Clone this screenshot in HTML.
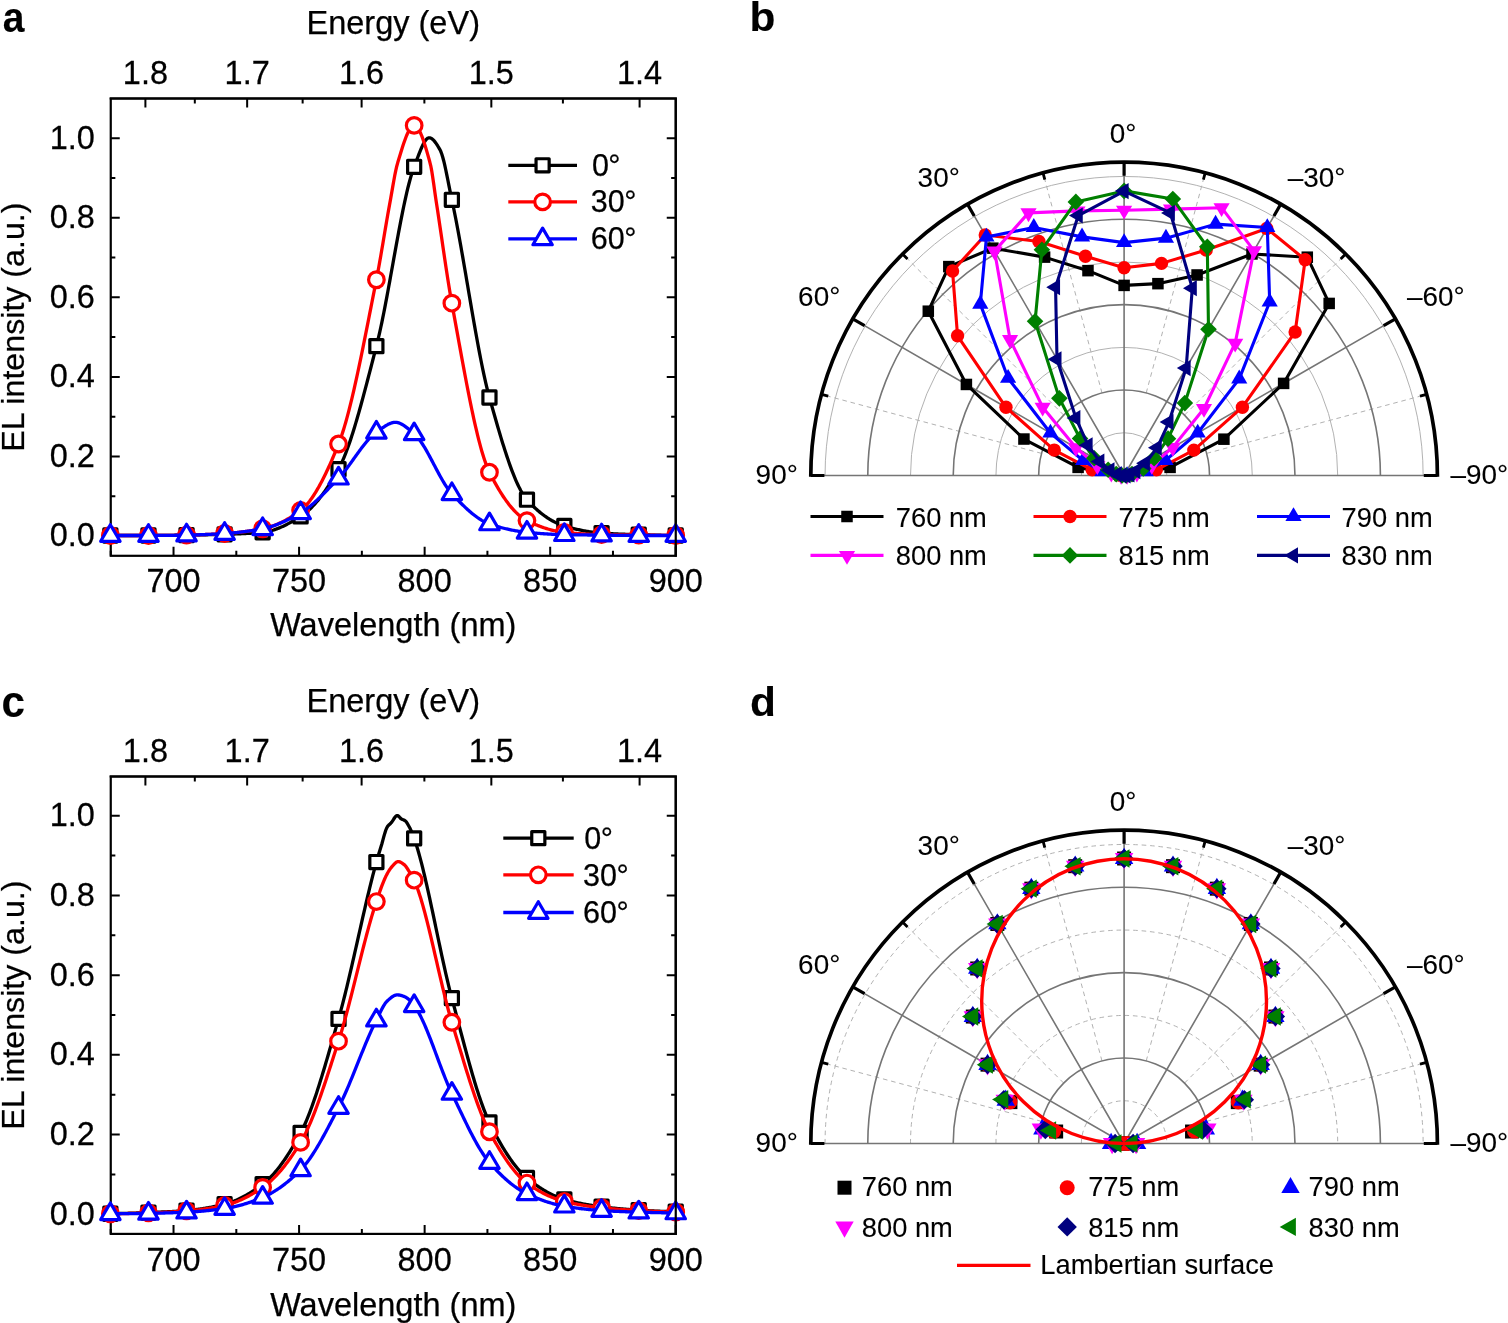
<!DOCTYPE html>
<html lang="en">
<head>
<meta charset="utf-8">
<title>EL spectra and angular emission profiles</title>
<style>
html,body{margin:0;padding:0;background:#fff;}
body{width:1508px;height:1323px;overflow:hidden;}
svg{display:block;font-family:'Liberation Sans', Arial, Helvetica, sans-serif;font-size:32.5px;fill:#000;}
text{stroke:#000;stroke-width:0.25px;}
text.p{stroke-width:0.1px;}
</style>
</head>
<body>
<svg width="1508" height="1323" viewBox="0 0 1508 1323">
<rect width="1508" height="1323" fill="#fff"/>
<rect x="110.75" y="98.5" width="565.0" height="457.29999999999995" fill="none" stroke="#000" stroke-width="2.2"/>
<path d="M173.53 555.8v-9M299.08 555.8v-9M424.64 555.8v-9M550.19 555.8v-9M675.75 555.8v-9M110.75 555.8v-5M236.31 555.8v-5M361.86 555.8v-5M487.42 555.8v-5M612.97 555.8v-5M145.4 98.5v9M247.15 98.5v9M361.61 98.5v9M491.33 98.5v9M639.59 98.5v9M194.82 98.5v5M302.64 98.5v5M424.38 98.5v5M562.91 98.5v5M110.75 536h9M675.75 536h-9M110.75 456.45h9M675.75 456.45h-9M110.75 376.9h9M675.75 376.9h-9M110.75 297.35h9M675.75 297.35h-9M110.75 217.8h9M675.75 217.8h-9M110.75 138.25h9M675.75 138.25h-9M110.75 496.23h4.6M675.75 496.23h-4.6M110.75 416.67h4.6M675.75 416.67h-4.6M110.75 337.12h4.6M675.75 337.12h-4.6M110.75 257.57h4.6M675.75 257.57h-4.6M110.75 178.02h4.6M675.75 178.02h-4.6" fill="none" stroke="#000" stroke-width="2"/>
<text transform="translate(173.53 591.8) scale(1 1.035)" text-anchor="middle">700</text>
<text transform="translate(299.08 591.8) scale(1 1.035)" text-anchor="middle">750</text>
<text transform="translate(424.64 591.8) scale(1 1.035)" text-anchor="middle">800</text>
<text transform="translate(550.19 591.8) scale(1 1.035)" text-anchor="middle">850</text>
<text transform="translate(675.75 591.8) scale(1 1.035)" text-anchor="middle">900</text>
<text transform="translate(145.4 84.3) scale(1 1.035)" text-anchor="middle">1.8</text>
<text transform="translate(247.15 84.3) scale(1 1.035)" text-anchor="middle">1.7</text>
<text transform="translate(361.61 84.3) scale(1 1.035)" text-anchor="middle">1.6</text>
<text transform="translate(491.33 84.3) scale(1 1.035)" text-anchor="middle">1.5</text>
<text transform="translate(639.59 84.3) scale(1 1.035)" text-anchor="middle">1.4</text>
<text transform="translate(94.9 546.4) scale(1 1.035)" text-anchor="end">0.0</text>
<text transform="translate(94.9 466.85) scale(1 1.035)" text-anchor="end">0.2</text>
<text transform="translate(94.9 387.3) scale(1 1.035)" text-anchor="end">0.4</text>
<text transform="translate(94.9 307.75) scale(1 1.035)" text-anchor="end">0.6</text>
<text transform="translate(94.9 228.2) scale(1 1.035)" text-anchor="end">0.8</text>
<text transform="translate(94.9 148.65) scale(1 1.035)" text-anchor="end">1.0</text>
<text x="393.25" y="635.9" text-anchor="middle">Wavelength (nm)</text>
<text x="393.25" y="34.2" text-anchor="middle">Energy (eV)</text>
<text transform="translate(24.3 327.15) rotate(-90)" text-anchor="middle" font-size="32.2">EL intensity (a.u.)</text>
<text transform="translate(2.8 31.5) scale(0.95 1.05)" font-weight="bold" font-size="41" class="p">a</text>
<path d="M110.75 535.5 111.75 535.5 112.75 535.5 113.75 535.5 114.75 535.5 115.75 535.5 116.75 535.5 117.75 535.5 118.75 535.5 119.75 535.5 120.75 535.5 121.75 535.5 122.75 535.5 123.75 535.5 124.75 535.5 125.75 535.5 126.75 535.5 127.75 535.5 128.75 535.5 129.75 535.5 130.75 535.5 131.75 535.5 132.75 535.5 133.75 535.5 134.75 535.5 135.75 535.5 136.75 535.5 137.75 535.5 138.75 535.5 139.75 535.5 140.75 535.5 141.75 535.5 142.75 535.5 143.75 535.5 144.75 535.5 145.75 535.5 146.75 535.5 147.75 535.5 148.75 535.5 149.75 535.5 150.75 535.5 151.75 535.5 152.75 535.49 153.75 535.49 154.75 535.48 155.75 535.48 156.75 535.47 157.75 535.46 158.75 535.46 159.75 535.45 160.75 535.44 161.75 535.43 162.75 535.42 163.75 535.41 164.75 535.4 165.75 535.39 166.75 535.38 167.75 535.36 168.75 535.35 169.75 535.34 170.75 535.33 171.75 535.31 172.75 535.3 173.75 535.29 174.75 535.27 175.75 535.26 176.75 535.24 177.75 535.23 178.75 535.21 179.75 535.2 180.75 535.19 181.75 535.17 182.75 535.16 183.75 535.14 184.75 535.13 185.75 535.11 186.75 535.1 187.75 535.09 188.75 535.07 189.75 535.06 190.75 535.04 191.75 535.03 192.75 535.01 193.75 534.99 194.75 534.98 195.75 534.96 196.75 534.95 197.75 534.93 198.75 534.91 199.75 534.89 200.75 534.87 201.75 534.86 202.75 534.84 203.75 534.82 204.75 534.8 205.75 534.78 206.75 534.76 207.75 534.74 208.75 534.71 209.75 534.69 210.75 534.67 211.75 534.65 212.75 534.62 213.75 534.6 214.75 534.57 215.75 534.55 216.75 534.52 217.75 534.5 218.75 534.47 219.75 534.45 220.75 534.42 221.75 534.39 222.75 534.36 223.75 534.33 224.75 534.3 225.75 534.27 226.75 534.24 227.75 534.21 228.75 534.18 229.75 534.15 230.75 534.12 231.75 534.08 232.75 534.05 233.75 534.02 234.75 533.98 235.75 533.94 236.75 533.91 237.75 533.87 238.75 533.83 239.75 533.79 240.75 533.74 241.75 533.7 242.75 533.65 243.75 533.61 244.75 533.56 245.75 533.51 246.75 533.45 247.75 533.4 248.75 533.34 249.75 533.29 250.75 533.23 251.75 533.16 252.75 533.1 253.75 533.03 254.75 532.96 255.75 532.89 256.75 532.81 257.75 532.74 258.75 532.66 259.75 532.57 260.75 532.49 261.75 532.4 262.75 532.31 263.75 532.2 264.75 532.07 265.75 531.92 266.75 531.74 267.75 531.55 268.75 531.33 269.75 531.09 270.75 530.84 271.75 530.56 272.75 530.27 273.75 529.95 274.75 529.62 275.75 529.27 276.75 528.91 277.75 528.53 278.75 528.13 279.75 527.71 280.75 527.29 281.75 526.84 282.75 526.39 283.75 525.91 284.75 525.43 285.75 524.93 286.75 524.43 287.75 523.91 288.75 523.38 289.75 522.83 290.75 522.28 291.75 521.72 292.75 521.15 293.75 520.57 294.75 519.99 295.75 519.39 296.75 518.79 297.75 518.18 298.75 517.57 299.75 516.95 300.75 516.32 301.75 515.67 302.75 514.98 303.75 514.26 304.75 513.5 305.75 512.71 306.75 511.88 307.75 511.02 308.75 510.13 309.75 509.2 310.75 508.23 311.75 507.23 312.75 506.2 313.75 505.14 314.75 504.05 315.75 502.92 316.75 501.76 317.75 500.57 318.75 499.34 319.75 498.09 320.75 496.8 321.75 495.49 322.75 494.14 323.75 492.76 324.75 491.35 325.75 489.92 326.75 488.45 327.75 486.96 328.75 485.43 329.75 483.88 330.75 482.3 331.75 480.69 332.75 479.06 333.75 477.39 334.75 475.7 335.75 473.99 336.75 472.24 337.75 470.47 338.75 468.67 339.75 466.79 340.75 464.78 341.75 462.66 342.75 460.44 343.75 458.1 344.75 455.67 345.75 453.14 346.75 450.51 347.75 447.79 348.75 444.98 349.75 442.09 350.75 439.12 351.75 436.06 352.75 432.94 353.75 429.74 354.75 426.48 355.75 423.15 356.75 419.77 357.75 416.32 358.75 412.83 359.75 409.28 360.75 405.69 361.75 402.05 362.75 398.38 363.75 394.66 364.75 390.92 365.75 387.15 366.75 383.35 367.75 379.53 368.75 375.7 369.75 371.84 370.75 367.98 371.75 364.11 372.75 360.23 373.75 356.36 374.75 352.48 375.75 348.62 376.75 344.74 377.75 340.71 378.75 336.49 379.75 332.09 380.75 327.52 381.75 322.8 382.75 317.94 383.75 312.95 384.75 307.85 385.75 302.65 386.75 297.36 387.75 291.99 388.75 286.56 389.75 281.08 390.75 275.56 391.75 270.02 392.75 264.47 393.75 258.91 394.75 253.38 395.75 247.87 396.75 242.39 397.75 236.97 398.75 231.62 399.75 226.35 400.75 221.16 401.75 216.08 402.75 211.12 403.75 206.28 404.75 201.59 405.75 197.05 406.75 192.68 407.75 188.49 408.75 184.5 409.75 180.71 410.75 177.14 411.75 173.8 412.75 170.71 413.75 167.88 414.75 165.25 415.75 162.6 416.75 159.91 417.75 157.23 418.75 154.59 419.75 152.03 420.75 149.57 421.75 147.25 422.75 145.1 423.75 143.17 424.75 141.47 425.75 140.05 426.75 138.95 427.75 138.18 428.75 137.79 429.75 137.79 430.75 138.09 431.75 138.64 432.75 139.43 433.75 140.42 434.75 141.6 435.75 142.94 436.75 144.41 437.75 145.98 438.75 147.65 439.75 149.37 440.75 151.32 441.75 153.96 442.75 157.21 443.75 160.98 444.75 165.19 445.75 169.74 446.75 174.55 447.75 179.53 448.75 184.58 449.75 189.62 450.75 194.56 451.75 199.3 452.75 203.96 453.75 208.76 454.75 213.71 455.75 218.78 456.75 223.98 457.75 229.29 458.75 234.7 459.75 240.2 460.75 245.78 461.75 251.43 462.75 257.15 463.75 262.91 464.75 268.72 465.75 274.56 466.75 280.42 467.75 286.29 468.75 292.17 469.75 298.04 470.75 303.89 471.75 309.71 472.75 315.5 473.75 321.23 474.75 326.91 475.75 332.53 476.75 338.06 477.75 343.51 478.75 348.86 479.75 354.11 480.75 359.24 481.75 364.24 482.75 369.11 483.75 373.83 484.75 378.39 485.75 382.79 486.75 387.01 487.75 391.04 488.75 394.88 489.75 398.53 490.75 402.11 491.75 405.68 492.75 409.24 493.75 412.79 494.75 416.31 495.75 419.81 496.75 423.28 497.75 426.73 498.75 430.14 499.75 433.51 500.75 436.85 501.75 440.15 502.75 443.39 503.75 446.59 504.75 449.74 505.75 452.84 506.75 455.87 507.75 458.85 508.75 461.76 509.75 464.6 510.75 467.37 511.75 470.07 512.75 472.69 513.75 475.22 514.75 477.68 515.75 480.05 516.75 482.33 517.75 484.51 518.75 486.6 519.75 488.59 520.75 490.48 521.75 492.26 522.75 493.93 523.75 495.49 524.75 496.94 525.75 498.27 526.75 499.47 527.75 500.58 528.75 501.67 529.75 502.73 530.75 503.77 531.75 504.79 532.75 505.79 533.75 506.76 534.75 507.71 535.75 508.64 536.75 509.55 537.75 510.43 538.75 511.29 539.75 512.13 540.75 512.95 541.75 513.75 542.75 514.52 543.75 515.27 544.75 516 545.75 516.71 546.75 517.39 547.75 518.06 548.75 518.7 549.75 519.32 550.75 519.92 551.75 520.5 552.75 521.05 553.75 521.59 554.75 522.1 555.75 522.59 556.75 523.06 557.75 523.51 558.75 523.94 559.75 524.35 560.75 524.74 561.75 525.1 562.75 525.45 563.75 525.77 564.75 526.08 565.75 526.37 566.75 526.67 567.75 526.95 568.75 527.23 569.75 527.51 570.75 527.78 571.75 528.04 572.75 528.3 573.75 528.55 574.75 528.8 575.75 529.04 576.75 529.28 577.75 529.51 578.75 529.73 579.75 529.95 580.75 530.16 581.75 530.37 582.75 530.57 583.75 530.76 584.75 530.95 585.75 531.13 586.75 531.31 587.75 531.47 588.75 531.64 589.75 531.79 590.75 531.94 591.75 532.08 592.75 532.22 593.75 532.34 594.75 532.47 595.75 532.58 596.75 532.69 597.75 532.79 598.75 532.88 599.75 532.97 600.75 533.05 601.75 533.12 602.75 533.19 603.75 533.26 604.75 533.32 605.75 533.39 606.75 533.45 607.75 533.51 608.75 533.56 609.75 533.62 610.75 533.67 611.75 533.72 612.75 533.77 613.75 533.82 614.75 533.87 615.75 533.91 616.75 533.96 617.75 534 618.75 534.04 619.75 534.08 620.75 534.12 621.75 534.16 622.75 534.2 623.75 534.24 624.75 534.27 625.75 534.31 626.75 534.34 627.75 534.37 628.75 534.41 629.75 534.44 630.75 534.47 631.75 534.5 632.75 534.53 633.75 534.56 634.75 534.59 635.75 534.62 636.75 534.65 637.75 534.68 638.75 534.7 639.75 534.73 640.75 534.76 641.75 534.79 642.75 534.82 643.75 534.85 644.75 534.87 645.75 534.9 646.75 534.93 647.75 534.95 648.75 534.98 649.75 535 650.75 535.03 651.75 535.05 652.75 535.08 653.75 535.1 654.75 535.13 655.75 535.15 656.75 535.17 657.75 535.2 658.75 535.22 659.75 535.24 660.75 535.26 661.75 535.28 662.75 535.3 663.75 535.32 664.75 535.34 665.75 535.36 666.75 535.37 667.75 535.39 668.75 535.41 669.75 535.42 670.75 535.44 671.75 535.45 672.75 535.46 673.75 535.48 674.75 535.49 675.75 535.5" fill="none" stroke="#000" stroke-width="3.3" stroke-linejoin="round"/>
<rect x="103.81" y="528.95" width="13.1" height="13.1" fill="#fff" stroke="#000" stroke-width="3.2" stroke-linejoin="round"/>
<rect x="141.92" y="528.95" width="13.1" height="13.1" fill="#fff" stroke="#000" stroke-width="3.2" stroke-linejoin="round"/>
<rect x="180" y="528.55" width="13.1" height="13.1" fill="#fff" stroke="#000" stroke-width="3.2" stroke-linejoin="round"/>
<rect x="218.06" y="527.76" width="13.1" height="13.1" fill="#fff" stroke="#000" stroke-width="3.2" stroke-linejoin="round"/>
<rect x="256.08" y="525.77" width="13.1" height="13.1" fill="#fff" stroke="#000" stroke-width="3.2" stroke-linejoin="round"/>
<rect x="294.06" y="509.86" width="13.1" height="13.1" fill="#fff" stroke="#000" stroke-width="3.2" stroke-linejoin="round"/>
<rect x="331.98" y="462.53" width="13.1" height="13.1" fill="#fff" stroke="#000" stroke-width="3.2" stroke-linejoin="round"/>
<rect x="369.83" y="339.62" width="13.1" height="13.1" fill="#fff" stroke="#000" stroke-width="3.2" stroke-linejoin="round"/>
<rect x="407.61" y="160.24" width="13.1" height="13.1" fill="#fff" stroke="#000" stroke-width="3.2" stroke-linejoin="round"/>
<rect x="445.31" y="193.25" width="13.1" height="13.1" fill="#fff" stroke="#000" stroke-width="3.2" stroke-linejoin="round"/>
<rect x="482.91" y="390.93" width="13.1" height="13.1" fill="#fff" stroke="#000" stroke-width="3.2" stroke-linejoin="round"/>
<rect x="520.41" y="493.15" width="13.1" height="13.1" fill="#fff" stroke="#000" stroke-width="3.2" stroke-linejoin="round"/>
<rect x="557.79" y="519.4" width="13.1" height="13.1" fill="#fff" stroke="#000" stroke-width="3.2" stroke-linejoin="round"/>
<rect x="595.05" y="526.56" width="13.1" height="13.1" fill="#fff" stroke="#000" stroke-width="3.2" stroke-linejoin="round"/>
<rect x="632.18" y="528.15" width="13.1" height="13.1" fill="#fff" stroke="#000" stroke-width="3.2" stroke-linejoin="round"/>
<rect x="669.17" y="528.95" width="13.1" height="13.1" fill="#fff" stroke="#000" stroke-width="3.2" stroke-linejoin="round"/>
<path d="M110.75 535.5 111.75 535.5 112.75 535.5 113.75 535.5 114.75 535.5 115.75 535.5 116.75 535.5 117.75 535.5 118.75 535.5 119.75 535.5 120.75 535.5 121.75 535.5 122.75 535.5 123.75 535.5 124.75 535.5 125.75 535.5 126.75 535.5 127.75 535.5 128.75 535.5 129.75 535.5 130.75 535.5 131.75 535.5 132.75 535.5 133.75 535.5 134.75 535.5 135.75 535.5 136.75 535.5 137.75 535.5 138.75 535.5 139.75 535.5 140.75 535.5 141.75 535.5 142.75 535.5 143.75 535.5 144.75 535.5 145.75 535.5 146.75 535.5 147.75 535.5 148.75 535.5 149.75 535.5 150.75 535.5 151.75 535.5 152.75 535.49 153.75 535.49 154.75 535.49 155.75 535.48 156.75 535.48 157.75 535.47 158.75 535.46 159.75 535.46 160.75 535.45 161.75 535.44 162.75 535.43 163.75 535.42 164.75 535.41 165.75 535.4 166.75 535.39 167.75 535.38 168.75 535.37 169.75 535.35 170.75 535.34 171.75 535.33 172.75 535.31 173.75 535.3 174.75 535.29 175.75 535.27 176.75 535.26 177.75 535.24 178.75 535.23 179.75 535.21 180.75 535.2 181.75 535.18 182.75 535.16 183.75 535.15 184.75 535.13 185.75 535.12 186.75 535.1 187.75 535.08 188.75 535.06 189.75 535.04 190.75 535.02 191.75 535 192.75 534.97 193.75 534.94 194.75 534.92 195.75 534.89 196.75 534.85 197.75 534.82 198.75 534.79 199.75 534.75 200.75 534.72 201.75 534.68 202.75 534.64 203.75 534.6 204.75 534.56 205.75 534.52 206.75 534.47 207.75 534.43 208.75 534.38 209.75 534.34 210.75 534.29 211.75 534.24 212.75 534.19 213.75 534.14 214.75 534.08 215.75 534.03 216.75 533.98 217.75 533.92 218.75 533.86 219.75 533.81 220.75 533.75 221.75 533.69 222.75 533.63 223.75 533.56 224.75 533.5 225.75 533.44 226.75 533.37 227.75 533.3 228.75 533.23 229.75 533.15 230.75 533.07 231.75 532.99 232.75 532.91 233.75 532.82 234.75 532.73 235.75 532.63 236.75 532.54 237.75 532.43 238.75 532.33 239.75 532.22 240.75 532.11 241.75 532 242.75 531.88 243.75 531.76 244.75 531.63 245.75 531.5 246.75 531.37 247.75 531.24 248.75 531.1 249.75 530.95 250.75 530.8 251.75 530.65 252.75 530.5 253.75 530.34 254.75 530.17 255.75 530.01 256.75 529.83 257.75 529.66 258.75 529.48 259.75 529.29 260.75 529.11 261.75 528.91 262.75 528.72 263.75 528.51 264.75 528.28 265.75 528.04 266.75 527.79 267.75 527.52 268.75 527.23 269.75 526.93 270.75 526.62 271.75 526.29 272.75 525.94 273.75 525.58 274.75 525.21 275.75 524.82 276.75 524.42 277.75 524 278.75 523.56 279.75 523.11 280.75 522.65 281.75 522.17 282.75 521.68 283.75 521.17 284.75 520.65 285.75 520.11 286.75 519.56 287.75 518.99 288.75 518.41 289.75 517.82 290.75 517.21 291.75 516.59 292.75 515.95 293.75 515.3 294.75 514.63 295.75 513.95 296.75 513.25 297.75 512.55 298.75 511.82 299.75 511.09 300.75 510.34 301.75 509.54 302.75 508.68 303.75 507.75 304.75 506.76 305.75 505.71 306.75 504.6 307.75 503.43 308.75 502.2 309.75 500.92 310.75 499.58 311.75 498.18 312.75 496.73 313.75 495.23 314.75 493.67 315.75 492.07 316.75 490.41 317.75 488.7 318.75 486.95 319.75 485.15 320.75 483.31 321.75 481.41 322.75 479.48 323.75 477.5 324.75 475.49 325.75 473.43 326.75 471.33 327.75 469.19 328.75 467.02 329.75 464.81 330.75 462.57 331.75 460.29 332.75 457.98 333.75 455.63 334.75 453.26 335.75 450.85 336.75 448.42 337.75 445.95 338.75 443.46 339.75 440.85 340.75 438.09 341.75 435.18 342.75 432.13 343.75 428.94 344.75 425.62 345.75 422.17 346.75 418.6 347.75 414.91 348.75 411.1 349.75 407.19 350.75 403.17 351.75 399.05 352.75 394.84 353.75 390.53 354.75 386.15 355.75 381.68 356.75 377.14 357.75 372.52 358.75 367.84 359.75 363.1 360.75 358.31 361.75 353.46 362.75 348.57 363.75 343.64 364.75 338.66 365.75 333.66 366.75 328.63 367.75 323.58 368.75 318.51 369.75 313.43 370.75 308.34 371.75 303.24 372.75 298.15 373.75 293.07 374.75 288 375.75 282.94 376.75 277.89 377.75 272.66 378.75 267.23 379.75 261.64 380.75 255.91 381.75 250.08 382.75 244.19 383.75 238.25 384.75 232.3 385.75 226.38 386.75 220.52 387.75 214.75 388.75 209.09 389.75 203.59 390.75 198.09 391.75 192.38 392.75 186.6 393.75 180.94 394.75 175.54 395.75 170.58 396.75 166.21 397.75 162.59 398.75 159.27 399.75 155.95 400.75 152.67 401.75 149.46 402.75 146.33 403.75 143.31 404.75 140.44 405.75 137.74 406.75 135.23 407.75 132.95 408.75 130.91 409.75 129.16 410.75 127.71 411.75 126.59 412.75 125.83 413.75 125.46 414.75 125.49 415.75 125.94 416.75 126.78 417.75 127.98 418.75 129.53 419.75 131.38 420.75 133.53 421.75 135.94 422.75 138.59 423.75 141.46 424.75 144.52 425.75 147.74 426.75 151.11 427.75 154.59 428.75 158.16 429.75 161.8 430.75 165.81 431.75 171.1 432.75 177.4 433.75 184.32 434.75 191.47 435.75 198.49 436.75 205.03 437.75 211.54 438.75 218.18 439.75 224.91 440.75 231.71 441.75 238.55 442.75 245.4 443.75 252.22 444.75 259 445.75 265.7 446.75 272.29 447.75 278.75 448.75 285.04 449.75 291.14 450.75 297.01 451.75 302.63 452.75 308.09 453.75 313.58 454.75 319.09 455.75 324.61 456.75 330.13 457.75 335.65 458.75 341.17 459.75 346.67 460.75 352.15 461.75 357.61 462.75 363.03 463.75 368.41 464.75 373.74 465.75 379.02 466.75 384.24 467.75 389.4 468.75 394.48 469.75 399.48 470.75 404.4 471.75 409.22 472.75 413.95 473.75 418.57 474.75 423.07 475.75 427.46 476.75 431.73 477.75 435.86 478.75 439.86 479.75 443.71 480.75 447.41 481.75 450.95 482.75 454.33 483.75 457.53 484.75 460.57 485.75 463.41 486.75 466.07 487.75 468.53 488.75 470.79 489.75 472.84 490.75 474.82 491.75 476.76 492.75 478.66 493.75 480.53 494.75 482.37 495.75 484.17 496.75 485.93 497.75 487.65 498.75 489.34 499.75 491 500.75 492.61 501.75 494.19 502.75 495.73 503.75 497.23 504.75 498.69 505.75 500.11 506.75 501.5 507.75 502.84 508.75 504.15 509.75 505.41 510.75 506.63 511.75 507.82 512.75 508.96 513.75 510.06 514.75 511.12 515.75 512.14 516.75 513.11 517.75 514.05 518.75 514.94 519.75 515.78 520.75 516.59 521.75 517.35 522.75 518.06 523.75 518.73 524.75 519.36 525.75 519.94 526.75 520.48 527.75 520.98 528.75 521.47 529.75 521.96 530.75 522.43 531.75 522.9 532.75 523.35 533.75 523.79 534.75 524.23 535.75 524.65 536.75 525.07 537.75 525.47 538.75 525.87 539.75 526.25 540.75 526.63 541.75 526.99 542.75 527.35 543.75 527.69 544.75 528.02 545.75 528.34 546.75 528.66 547.75 528.96 548.75 529.25 549.75 529.53 550.75 529.79 551.75 530.05 552.75 530.3 553.75 530.53 554.75 530.76 555.75 530.97 556.75 531.17 557.75 531.36 558.75 531.54 559.75 531.7 560.75 531.86 561.75 532 562.75 532.13 563.75 532.25 564.75 532.36 565.75 532.47 566.75 532.57 567.75 532.67 568.75 532.77 569.75 532.86 570.75 532.96 571.75 533.05 572.75 533.14 573.75 533.22 574.75 533.31 575.75 533.39 576.75 533.47 577.75 533.55 578.75 533.63 579.75 533.7 580.75 533.77 581.75 533.84 582.75 533.91 583.75 533.97 584.75 534.03 585.75 534.09 586.75 534.15 587.75 534.2 588.75 534.26 589.75 534.31 590.75 534.35 591.75 534.4 592.75 534.44 593.75 534.48 594.75 534.52 595.75 534.55 596.75 534.58 597.75 534.61 598.75 534.64 599.75 534.67 600.75 534.69 601.75 534.71 602.75 534.72 603.75 534.74 604.75 534.76 605.75 534.77 606.75 534.79 607.75 534.8 608.75 534.82 609.75 534.83 610.75 534.84 611.75 534.85 612.75 534.87 613.75 534.88 614.75 534.89 615.75 534.9 616.75 534.91 617.75 534.92 618.75 534.93 619.75 534.94 620.75 534.94 621.75 534.95 622.75 534.96 623.75 534.97 624.75 534.98 625.75 534.99 626.75 534.99 627.75 535 628.75 535.01 629.75 535.02 630.75 535.03 631.75 535.04 632.75 535.04 633.75 535.05 634.75 535.06 635.75 535.07 636.75 535.08 637.75 535.09 638.75 535.1 639.75 535.11 640.75 535.12 641.75 535.13 642.75 535.15 643.75 535.16 644.75 535.17 645.75 535.18 646.75 535.19 647.75 535.2 648.75 535.21 649.75 535.22 650.75 535.23 651.75 535.24 652.75 535.25 653.75 535.26 654.75 535.27 655.75 535.29 656.75 535.3 657.75 535.31 658.75 535.32 659.75 535.33 660.75 535.34 661.75 535.35 662.75 535.36 663.75 535.37 664.75 535.38 665.75 535.39 666.75 535.4 667.75 535.41 668.75 535.42 669.75 535.44 670.75 535.45 671.75 535.46 672.75 535.47 673.75 535.48 674.75 535.49 675.75 535.5" fill="none" stroke="#f00" stroke-width="3.3" stroke-linejoin="round"/>
<circle cx="110.36" cy="535.5" r="7.8" fill="#fff" stroke="#f00" stroke-width="3.2"/>
<circle cx="148.47" cy="535.5" r="7.8" fill="#fff" stroke="#f00" stroke-width="3.2"/>
<circle cx="186.55" cy="535.1" r="7.8" fill="#fff" stroke="#f00" stroke-width="3.2"/>
<circle cx="224.61" cy="533.51" r="7.8" fill="#fff" stroke="#f00" stroke-width="3.2"/>
<circle cx="262.63" cy="528.74" r="7.8" fill="#fff" stroke="#f00" stroke-width="3.2"/>
<circle cx="300.61" cy="510.44" r="7.8" fill="#fff" stroke="#f00" stroke-width="3.2"/>
<circle cx="338.53" cy="444.02" r="7.8" fill="#fff" stroke="#f00" stroke-width="3.2"/>
<circle cx="376.38" cy="279.75" r="7.8" fill="#fff" stroke="#f00" stroke-width="3.2"/>
<circle cx="414.16" cy="125.42" r="7.8" fill="#fff" stroke="#f00" stroke-width="3.2"/>
<circle cx="451.86" cy="303.21" r="7.8" fill="#fff" stroke="#f00" stroke-width="3.2"/>
<circle cx="489.46" cy="472.26" r="7.8" fill="#fff" stroke="#f00" stroke-width="3.2"/>
<circle cx="526.96" cy="520.58" r="7.8" fill="#fff" stroke="#f00" stroke-width="3.2"/>
<circle cx="564.34" cy="532.32" r="7.8" fill="#fff" stroke="#f00" stroke-width="3.2"/>
<circle cx="601.6" cy="534.7" r="7.8" fill="#fff" stroke="#f00" stroke-width="3.2"/>
<circle cx="638.73" cy="535.1" r="7.8" fill="#fff" stroke="#f00" stroke-width="3.2"/>
<circle cx="675.72" cy="535.5" r="7.8" fill="#fff" stroke="#f00" stroke-width="3.2"/>
<path d="M110.75 535.5 111.75 535.5 112.75 535.5 113.75 535.5 114.75 535.5 115.75 535.5 116.75 535.5 117.75 535.5 118.75 535.5 119.75 535.5 120.75 535.5 121.75 535.5 122.75 535.5 123.75 535.5 124.75 535.5 125.75 535.5 126.75 535.5 127.75 535.5 128.75 535.5 129.75 535.5 130.75 535.5 131.75 535.5 132.75 535.5 133.75 535.5 134.75 535.5 135.75 535.5 136.75 535.5 137.75 535.5 138.75 535.5 139.75 535.5 140.75 535.5 141.75 535.5 142.75 535.5 143.75 535.5 144.75 535.5 145.75 535.5 146.75 535.5 147.75 535.5 148.75 535.5 149.75 535.5 150.75 535.5 151.75 535.5 152.75 535.49 153.75 535.49 154.75 535.49 155.75 535.48 156.75 535.48 157.75 535.47 158.75 535.46 159.75 535.46 160.75 535.45 161.75 535.44 162.75 535.43 163.75 535.42 164.75 535.41 165.75 535.4 166.75 535.39 167.75 535.38 168.75 535.37 169.75 535.35 170.75 535.34 171.75 535.33 172.75 535.31 173.75 535.3 174.75 535.29 175.75 535.27 176.75 535.26 177.75 535.24 178.75 535.23 179.75 535.21 180.75 535.2 181.75 535.18 182.75 535.16 183.75 535.15 184.75 535.13 185.75 535.12 186.75 535.1 187.75 535.08 188.75 535.06 189.75 535.04 190.75 535.02 191.75 535 192.75 534.97 193.75 534.94 194.75 534.92 195.75 534.89 196.75 534.85 197.75 534.82 198.75 534.79 199.75 534.75 200.75 534.72 201.75 534.68 202.75 534.64 203.75 534.6 204.75 534.56 205.75 534.52 206.75 534.47 207.75 534.43 208.75 534.38 209.75 534.34 210.75 534.29 211.75 534.24 212.75 534.19 213.75 534.14 214.75 534.08 215.75 534.03 216.75 533.98 217.75 533.92 218.75 533.86 219.75 533.81 220.75 533.75 221.75 533.69 222.75 533.63 223.75 533.56 224.75 533.5 225.75 533.44 226.75 533.37 227.75 533.3 228.75 533.23 229.75 533.15 230.75 533.07 231.75 532.98 232.75 532.9 233.75 532.81 234.75 532.72 235.75 532.62 236.75 532.52 237.75 532.42 238.75 532.31 239.75 532.2 240.75 532.09 241.75 531.97 242.75 531.85 243.75 531.73 244.75 531.6 245.75 531.47 246.75 531.34 247.75 531.2 248.75 531.06 249.75 530.92 250.75 530.77 251.75 530.62 252.75 530.46 253.75 530.31 254.75 530.14 255.75 529.98 256.75 529.81 257.75 529.64 258.75 529.46 259.75 529.28 260.75 529.1 261.75 528.91 262.75 528.72 263.75 528.51 264.75 528.3 265.75 528.06 266.75 527.81 267.75 527.55 268.75 527.28 269.75 526.99 270.75 526.68 271.75 526.37 272.75 526.04 273.75 525.69 274.75 525.34 275.75 524.97 276.75 524.59 277.75 524.2 278.75 523.8 279.75 523.39 280.75 522.97 281.75 522.54 282.75 522.09 283.75 521.64 284.75 521.18 285.75 520.71 286.75 520.23 287.75 519.74 288.75 519.24 289.75 518.74 290.75 518.23 291.75 517.71 292.75 517.18 293.75 516.65 294.75 516.11 295.75 515.56 296.75 515.01 297.75 514.45 298.75 513.89 299.75 513.32 300.75 512.75 301.75 512.15 302.75 511.53 303.75 510.89 304.75 510.21 305.75 509.51 306.75 508.79 307.75 508.04 308.75 507.28 309.75 506.48 310.75 505.67 311.75 504.84 312.75 503.99 313.75 503.12 314.75 502.23 315.75 501.33 316.75 500.41 317.75 499.48 318.75 498.53 319.75 497.57 320.75 496.59 321.75 495.61 322.75 494.62 323.75 493.61 324.75 492.6 325.75 491.58 326.75 490.55 327.75 489.52 328.75 488.48 329.75 487.43 330.75 486.39 331.75 485.34 332.75 484.29 333.75 483.24 334.75 482.18 335.75 481.13 336.75 480.08 337.75 479.04 338.75 477.99 339.75 476.92 340.75 475.8 341.75 474.65 342.75 473.46 343.75 472.24 344.75 470.98 345.75 469.7 346.75 468.4 347.75 467.07 348.75 465.72 349.75 464.36 350.75 462.98 351.75 461.6 352.75 460.21 353.75 458.81 354.75 457.41 355.75 456.01 356.75 454.62 357.75 453.23 358.75 451.85 359.75 450.49 360.75 449.14 361.75 447.81 362.75 446.5 363.75 445.22 364.75 443.96 365.75 442.73 366.75 441.54 367.75 440.38 368.75 439.26 369.75 438.18 370.75 437.15 371.75 436.16 372.75 435.22 373.75 434.34 374.75 433.51 375.75 432.74 376.75 432.03 377.75 431.31 378.75 430.59 379.75 429.86 380.75 429.14 381.75 428.42 382.75 427.71 383.75 427.03 384.75 426.37 385.75 425.73 386.75 425.14 387.75 424.59 388.75 424.08 389.75 423.63 390.75 423.23 391.75 422.9 392.75 422.64 393.75 422.46 394.75 422.36 395.75 422.35 396.75 422.43 397.75 422.62 398.75 422.9 399.75 423.26 400.75 423.7 401.75 424.21 402.75 424.78 403.75 425.42 404.75 426.1 405.75 426.84 406.75 427.61 407.75 428.41 408.75 429.23 409.75 430.08 410.75 430.94 411.75 431.8 412.75 432.67 413.75 433.52 414.75 434.39 415.75 435.35 416.75 436.4 417.75 437.55 418.75 438.78 419.75 440.1 420.75 441.5 421.75 442.96 422.75 444.49 423.75 446.08 424.75 447.73 425.75 449.43 426.75 451.17 427.75 452.95 428.75 454.77 429.75 456.61 430.75 458.48 431.75 460.36 432.75 462.26 433.75 464.17 434.75 466.07 435.75 467.98 436.75 469.87 437.75 471.75 438.75 473.61 439.75 475.45 440.75 477.26 441.75 479.03 442.75 480.76 443.75 482.44 444.75 484.08 445.75 485.65 446.75 487.17 447.75 488.61 448.75 489.99 449.75 491.28 450.75 492.5 451.75 493.62 452.75 494.69 453.75 495.75 454.75 496.8 455.75 497.85 456.75 498.9 457.75 499.93 458.75 500.96 459.75 501.97 460.75 502.98 461.75 503.98 462.75 504.96 463.75 505.93 464.75 506.89 465.75 507.83 466.75 508.76 467.75 509.67 468.75 510.57 469.75 511.45 470.75 512.31 471.75 513.15 472.75 513.97 473.75 514.77 474.75 515.54 475.75 516.3 476.75 517.03 477.75 517.74 478.75 518.42 479.75 519.08 480.75 519.71 481.75 520.32 482.75 520.89 483.75 521.44 484.75 521.96 485.75 522.44 486.75 522.9 487.75 523.32 488.75 523.71 489.75 524.07 490.75 524.41 491.75 524.75 492.75 525.08 493.75 525.4 494.75 525.72 495.75 526.02 496.75 526.33 497.75 526.62 498.75 526.91 499.75 527.19 500.75 527.47 501.75 527.74 502.75 528 503.75 528.25 504.75 528.5 505.75 528.75 506.75 528.98 507.75 529.21 508.75 529.43 509.75 529.65 510.75 529.85 511.75 530.06 512.75 530.25 513.75 530.44 514.75 530.62 515.75 530.8 516.75 530.97 517.75 531.13 518.75 531.29 519.75 531.43 520.75 531.58 521.75 531.71 522.75 531.84 523.75 531.97 524.75 532.08 525.75 532.19 526.75 532.3 527.75 532.4 528.75 532.49 529.75 532.59 530.75 532.68 531.75 532.78 532.75 532.87 533.75 532.96 534.75 533.05 535.75 533.13 536.75 533.22 537.75 533.3 538.75 533.38 539.75 533.46 540.75 533.54 541.75 533.61 542.75 533.69 543.75 533.76 544.75 533.83 545.75 533.9 546.75 533.96 547.75 534.02 548.75 534.08 549.75 534.14 550.75 534.2 551.75 534.25 552.75 534.3 553.75 534.35 554.75 534.4 555.75 534.44 556.75 534.48 557.75 534.52 558.75 534.56 559.75 534.59 560.75 534.62 561.75 534.65 562.75 534.67 563.75 534.69 564.75 534.71 565.75 534.73 566.75 534.75 567.75 534.76 568.75 534.78 569.75 534.79 570.75 534.81 571.75 534.82 572.75 534.83 573.75 534.84 574.75 534.86 575.75 534.87 576.75 534.88 577.75 534.89 578.75 534.9 579.75 534.91 580.75 534.92 581.75 534.93 582.75 534.94 583.75 534.95 584.75 534.95 585.75 534.96 586.75 534.97 587.75 534.98 588.75 534.99 589.75 535 590.75 535 591.75 535.01 592.75 535.02 593.75 535.03 594.75 535.04 595.75 535.05 596.75 535.05 597.75 535.06 598.75 535.07 599.75 535.08 600.75 535.09 601.75 535.1 602.75 535.11 603.75 535.13 604.75 535.14 605.75 535.15 606.75 535.16 607.75 535.18 608.75 535.19 609.75 535.2 610.75 535.22 611.75 535.23 612.75 535.25 613.75 535.26 614.75 535.28 615.75 535.29 616.75 535.3 617.75 535.32 618.75 535.33 619.75 535.35 620.75 535.36 621.75 535.37 622.75 535.38 623.75 535.4 624.75 535.41 625.75 535.42 626.75 535.43 627.75 535.44 628.75 535.45 629.75 535.46 630.75 535.47 631.75 535.47 632.75 535.48 633.75 535.49 634.75 535.49 635.75 535.5 636.75 535.5 637.75 535.5 638.75 535.5 639.75 535.5 640.75 535.5 641.75 535.5 642.75 535.5 643.75 535.5 644.75 535.5 645.75 535.5 646.75 535.5 647.75 535.5 648.75 535.5 649.75 535.5 650.75 535.5 651.75 535.5 652.75 535.5 653.75 535.5 654.75 535.5 655.75 535.5 656.75 535.5 657.75 535.5 658.75 535.5 659.75 535.5 660.75 535.5 661.75 535.5 662.75 535.5 663.75 535.5 664.75 535.5 665.75 535.5 666.75 535.5 667.75 535.5 668.75 535.5 669.75 535.5 670.75 535.5 671.75 535.5 672.75 535.5 673.75 535.5 674.75 535.5 675.75 535.5" fill="none" stroke="#00f" stroke-width="3.3" stroke-linejoin="round"/>
<path d="M110.36 524.7L120.06 541.3H100.66Z" fill="#fff" stroke="#00f" stroke-width="3.2" stroke-linejoin="round"/>
<path d="M148.47 524.7L158.17 541.3H138.77Z" fill="#fff" stroke="#00f" stroke-width="3.2" stroke-linejoin="round"/>
<path d="M186.55 524.3L196.25 540.9H176.85Z" fill="#fff" stroke="#00f" stroke-width="3.2" stroke-linejoin="round"/>
<path d="M224.61 522.71L234.31 539.31H214.91Z" fill="#fff" stroke="#00f" stroke-width="3.2" stroke-linejoin="round"/>
<path d="M262.63 517.94L272.33 534.54H252.93Z" fill="#fff" stroke="#00f" stroke-width="3.2" stroke-linejoin="round"/>
<path d="M300.61 502.03L310.31 518.63H290.91Z" fill="#fff" stroke="#00f" stroke-width="3.2" stroke-linejoin="round"/>
<path d="M338.53 467.42L348.23 484.02H328.83Z" fill="#fff" stroke="#00f" stroke-width="3.2" stroke-linejoin="round"/>
<path d="M376.38 421.48L386.08 438.08H366.68Z" fill="#fff" stroke="#00f" stroke-width="3.2" stroke-linejoin="round"/>
<path d="M414.16 423.07L423.86 439.67H404.46Z" fill="#fff" stroke="#00f" stroke-width="3.2" stroke-linejoin="round"/>
<path d="M451.86 482.94L461.56 499.54H442.16Z" fill="#fff" stroke="#00f" stroke-width="3.2" stroke-linejoin="round"/>
<path d="M489.46 513.17L499.16 529.77H479.76Z" fill="#fff" stroke="#00f" stroke-width="3.2" stroke-linejoin="round"/>
<path d="M526.96 521.52L536.66 538.12H517.26Z" fill="#fff" stroke="#00f" stroke-width="3.2" stroke-linejoin="round"/>
<path d="M564.34 523.9L574.04 540.5H554.64Z" fill="#fff" stroke="#00f" stroke-width="3.2" stroke-linejoin="round"/>
<path d="M601.6 524.3L611.3 540.9H591.9Z" fill="#fff" stroke="#00f" stroke-width="3.2" stroke-linejoin="round"/>
<path d="M638.73 524.7L648.43 541.3H629.03Z" fill="#fff" stroke="#00f" stroke-width="3.2" stroke-linejoin="round"/>
<path d="M675.72 524.7L685.42 541.3H666.02Z" fill="#fff" stroke="#00f" stroke-width="3.2" stroke-linejoin="round"/>
<path d="M109.7 98.5H675.75V556.8499999999999" fill="none" stroke="#000" stroke-width="2.2"/>
<path d="M508.3 165.3H577" stroke="#000" stroke-width="3.3" fill="none"/>
<rect x="536.05" y="158.75" width="13.1" height="13.1" fill="#fff" stroke="#000" stroke-width="3.2" stroke-linejoin="round"/>
<text x="591.9" y="175.8" font-size="30.5">0<tspan dx="-0.5">°</tspan></text>
<path d="M508.3 201.9H577" stroke="#f00" stroke-width="3.3" fill="none"/>
<circle cx="542.6" cy="201.9" r="7.8" fill="#fff" stroke="#f00" stroke-width="3.2"/>
<text x="590.7" y="212.4" font-size="30.5">30<tspan dx="-0.5">°</tspan></text>
<path d="M508.3 238.9H577" stroke="#00f" stroke-width="3.3" fill="none"/>
<path d="M542.6 228.1L552.3 244.7H532.9Z" fill="#fff" stroke="#00f" stroke-width="3.2" stroke-linejoin="round"/>
<text x="590.7" y="249.4" font-size="30.5">60<tspan dx="-0.5">°</tspan></text>
<path d="M1081.38 475.5A42.72 42.72 0 0 1 1166.82 475.5M995.94 475.5A128.16 128.16 0 0 1 1252.26 475.5M910.5 475.5A213.6 213.6 0 0 1 1337.7 475.5M825.06 475.5A299.04 299.04 0 0 1 1423.14 475.5" fill="none" stroke="#b2b2b2" stroke-width="1"/>
<path d="M1206.63 453.39L1426.72 394.41M1184.52 415.08L1345.64 253.96M1146.21 392.97L1205.19 172.88M1101.99 392.97L1043.01 172.88M1063.68 415.08L902.56 253.96M1041.57 453.39L821.48 394.41" fill="none" stroke="#b2b2b2" stroke-width="1" stroke-dasharray="4.6 3.8"/>
<path d="M1038.66 475.5A85.44 85.44 0 0 1 1209.54 475.5M953.22 475.5A170.88 170.88 0 0 1 1294.98 475.5M867.78 475.5A256.32 256.32 0 0 1 1380.42 475.5" fill="none" stroke="#757575" stroke-width="1.6"/>
<path d="M1124.1 475.5L1437.4 475.5M1124.1 475.5L1395.43 318.85M1124.1 475.5L1280.75 204.17M1124.1 475.5L1124.1 162.2M1124.1 475.5L967.45 204.17M1124.1 475.5L852.77 318.85M1124.1 475.5L810.8 475.5" fill="none" stroke="#757575" stroke-width="1.6"/>
<path d="M810.8 476.7V475.5A313.3 313.3 0 0 1 1437.4 475.5V476.7" fill="none" stroke="#000" stroke-width="3.7"/>
<path d="M1437.4 475.5L1423.8 475.5M1395.43 318.85L1383.65 325.65M1280.75 204.17L1273.95 215.95M1124.1 162.2L1124.1 175.8M967.45 204.17L974.25 215.95M852.77 318.85L864.55 325.65M810.8 475.5L824.4 475.5" fill="none" stroke="#000" stroke-width="3.2"/>
<path d="M1426.72 394.41L1419.96 396.22M1345.64 253.96L1340.69 258.91M1205.19 172.88L1203.38 179.64M1043.01 172.88L1044.82 179.64M902.56 253.96L907.51 258.91M821.48 394.41L828.24 396.22" fill="none" stroke="#000" stroke-width="2.8"/>
<text transform="translate(1123.1 142.7) scale(1 1.02)" text-anchor="middle" font-size="27.9" class="p">0°</text>
<text transform="translate(959.8 186.7) scale(1 1.02)" text-anchor="end" font-size="27.9" class="p">30°</text>
<text transform="translate(840.3 305.7) scale(1 1.02)" text-anchor="end" font-size="27.9" class="p">60°</text>
<text transform="translate(797.8 484.1) scale(1 1.02)" text-anchor="end" font-size="27.9" class="p">90°</text>
<text transform="translate(1287.7 186.9) scale(1 1.02)" text-anchor="start" font-size="27.9" class="p">–30°</text>
<text transform="translate(1406.9 305.9) scale(1 1.02)" text-anchor="start" font-size="27.9" class="p">–60°</text>
<text transform="translate(1450.5 483.7) scale(1 1.02)" text-anchor="start" font-size="27.9" class="p">–90°</text>
<text transform="translate(749.4 30.5) scale(1.035 1)" font-weight="bold" font-size="41" class="p">b</text>
<path d="M1120.1 475.5 1078.11 467.39 1023.93 439.04 966.4 384.45 928.3 311.2 948.81 266.6 992.85 248.17 1044.61 257.12 1087.98 270.66 1124.1 285.4 1157.93 283.66 1197.09 274.97 1252 253.97 1307.29 257.18 1329.17 303.43 1283.62 383.4 1223.9 439.18 1170.09 467.39 1128.1 475.5" fill="none" stroke="#000" stroke-width="3.1" stroke-linejoin="round"/>
<rect x="1114.35" y="469.75" width="11.5" height="11.5" fill="#000"/>
<rect x="1072.36" y="461.64" width="11.5" height="11.5" fill="#000"/>
<rect x="1018.18" y="433.29" width="11.5" height="11.5" fill="#000"/>
<rect x="960.65" y="378.7" width="11.5" height="11.5" fill="#000"/>
<rect x="922.55" y="305.45" width="11.5" height="11.5" fill="#000"/>
<rect x="943.06" y="260.85" width="11.5" height="11.5" fill="#000"/>
<rect x="987.1" y="242.42" width="11.5" height="11.5" fill="#000"/>
<rect x="1038.86" y="251.37" width="11.5" height="11.5" fill="#000"/>
<rect x="1082.23" y="264.91" width="11.5" height="11.5" fill="#000"/>
<rect x="1118.35" y="279.65" width="11.5" height="11.5" fill="#000"/>
<rect x="1152.18" y="277.91" width="11.5" height="11.5" fill="#000"/>
<rect x="1191.34" y="269.22" width="11.5" height="11.5" fill="#000"/>
<rect x="1246.25" y="248.22" width="11.5" height="11.5" fill="#000"/>
<rect x="1301.54" y="251.43" width="11.5" height="11.5" fill="#000"/>
<rect x="1323.42" y="297.68" width="11.5" height="11.5" fill="#000"/>
<rect x="1277.87" y="377.65" width="11.5" height="11.5" fill="#000"/>
<rect x="1218.15" y="433.43" width="11.5" height="11.5" fill="#000"/>
<rect x="1164.34" y="461.64" width="11.5" height="11.5" fill="#000"/>
<rect x="1122.35" y="469.75" width="11.5" height="11.5" fill="#000"/>
<path d="M1121.1 475.5 1092.19 469.87 1054.28 450.09 1005.97 407.3 957.56 335.76 952.54 271.04 985.25 235 1038.94 241.52 1085.45 256.28 1124.1 267.8 1161.5 263.37 1206.18 249.97 1266.75 228.42 1305.17 259.71 1295.16 331.97 1242.4 407.2 1193.83 450.12 1156.3 469.82 1127.1 475.5" fill="none" stroke="#f00" stroke-width="3.1" stroke-linejoin="round"/>
<circle cx="1121.1" cy="475.5" r="6.7" fill="#f00"/>
<circle cx="1092.19" cy="469.87" r="6.7" fill="#f00"/>
<circle cx="1054.28" cy="450.09" r="6.7" fill="#f00"/>
<circle cx="1005.97" cy="407.3" r="6.7" fill="#f00"/>
<circle cx="957.56" cy="335.76" r="6.7" fill="#f00"/>
<circle cx="952.54" cy="271.04" r="6.7" fill="#f00"/>
<circle cx="985.25" cy="235" r="6.7" fill="#f00"/>
<circle cx="1038.94" cy="241.52" r="6.7" fill="#f00"/>
<circle cx="1085.45" cy="256.28" r="6.7" fill="#f00"/>
<circle cx="1124.1" cy="267.8" r="6.7" fill="#f00"/>
<circle cx="1161.5" cy="263.37" r="6.7" fill="#f00"/>
<circle cx="1206.18" cy="249.97" r="6.7" fill="#f00"/>
<circle cx="1266.75" cy="228.42" r="6.7" fill="#f00"/>
<circle cx="1305.17" cy="259.71" r="6.7" fill="#f00"/>
<circle cx="1295.16" cy="331.97" r="6.7" fill="#f00"/>
<circle cx="1242.4" cy="407.2" r="6.7" fill="#f00"/>
<circle cx="1193.83" cy="450.12" r="6.7" fill="#f00"/>
<circle cx="1156.3" cy="469.82" r="6.7" fill="#f00"/>
<circle cx="1127.1" cy="475.5" r="6.7" fill="#f00"/>
<path d="M1121.1 475.5 1102.43 471.68 1083.13 460.59 1050.4 432.95 1008.12 378.18 980.31 304.14 986.45 237.08 1033.81 227.42 1082.03 236.88 1124.1 242.6 1165.95 238.16 1215.59 224.13 1267.3 227.47 1269.69 301.99 1239.24 378.89 1197.71 433 1165.54 460.42 1145.77 471.68 1127.1 475.5" fill="none" stroke="#00f" stroke-width="3.1" stroke-linejoin="round"/>
<path d="M1121.1 466.2L1129.2 480H1113Z" fill="#00f"/>
<path d="M1102.43 462.38L1110.53 476.18H1094.33Z" fill="#00f"/>
<path d="M1083.13 451.29L1091.23 465.09H1075.03Z" fill="#00f"/>
<path d="M1050.4 423.65L1058.5 437.45H1042.3Z" fill="#00f"/>
<path d="M1008.12 368.88L1016.22 382.68H1000.02Z" fill="#00f"/>
<path d="M980.31 294.84L988.41 308.64H972.21Z" fill="#00f"/>
<path d="M986.45 227.78L994.55 241.58H978.35Z" fill="#00f"/>
<path d="M1033.81 218.12L1041.91 231.92H1025.71Z" fill="#00f"/>
<path d="M1082.03 227.58L1090.13 241.38H1073.93Z" fill="#00f"/>
<path d="M1124.1 233.3L1132.2 247.1H1116Z" fill="#00f"/>
<path d="M1165.95 228.86L1174.05 242.66H1157.85Z" fill="#00f"/>
<path d="M1215.59 214.83L1223.69 228.63H1207.49Z" fill="#00f"/>
<path d="M1267.3 218.17L1275.4 231.97H1259.2Z" fill="#00f"/>
<path d="M1269.69 292.69L1277.79 306.49H1261.59Z" fill="#00f"/>
<path d="M1239.24 369.59L1247.34 383.39H1231.14Z" fill="#00f"/>
<path d="M1197.71 423.7L1205.81 437.5H1189.61Z" fill="#00f"/>
<path d="M1165.54 451.12L1173.64 464.92H1157.44Z" fill="#00f"/>
<path d="M1145.77 462.38L1153.87 476.18H1137.67Z" fill="#00f"/>
<path d="M1127.1 466.2L1135.2 480H1119Z" fill="#00f"/>
<path d="M1121.1 475.5 1111.3 473.24 1097.32 465.75 1075.95 447.7 1042.67 407.17 1010.07 339.6 994.55 251.11 1028.51 212.86 1077.44 210.88 1124.1 210.2 1171.07 209.11 1221.58 207.69 1253.9 250.68 1235.17 343.13 1204 408.46 1172.77 447.4 1151.82 465.41 1136.9 473.24 1127.1 475.5" fill="none" stroke="#f0f" stroke-width="3.1" stroke-linejoin="round"/>
<path d="M1121.1 484.8L1129.2 471H1113Z" fill="#f0f"/>
<path d="M1111.3 482.54L1119.4 468.74H1103.2Z" fill="#f0f"/>
<path d="M1097.32 475.05L1105.42 461.25H1089.22Z" fill="#f0f"/>
<path d="M1075.95 457L1084.05 443.2H1067.85Z" fill="#f0f"/>
<path d="M1042.67 416.47L1050.77 402.67H1034.57Z" fill="#f0f"/>
<path d="M1010.07 348.9L1018.17 335.1H1001.97Z" fill="#f0f"/>
<path d="M994.55 260.41L1002.65 246.61H986.45Z" fill="#f0f"/>
<path d="M1028.51 222.16L1036.61 208.36H1020.41Z" fill="#f0f"/>
<path d="M1077.44 220.18L1085.54 206.38H1069.34Z" fill="#f0f"/>
<path d="M1124.1 219.5L1132.2 205.7H1116Z" fill="#f0f"/>
<path d="M1171.07 218.41L1179.17 204.61H1162.97Z" fill="#f0f"/>
<path d="M1221.58 216.99L1229.68 203.19H1213.48Z" fill="#f0f"/>
<path d="M1253.9 259.98L1262 246.18H1245.8Z" fill="#f0f"/>
<path d="M1235.17 352.43L1243.27 338.63H1227.07Z" fill="#f0f"/>
<path d="M1204 417.76L1212.1 403.96H1195.9Z" fill="#f0f"/>
<path d="M1172.77 456.7L1180.87 442.9H1164.67Z" fill="#f0f"/>
<path d="M1151.82 474.71L1159.92 460.91H1143.72Z" fill="#f0f"/>
<path d="M1136.9 482.54L1145 468.74H1128.8Z" fill="#f0f"/>
<path d="M1127.1 484.8L1135.2 471H1119Z" fill="#f0f"/>
<path d="M1122.1 475.5 1116.22 474.11 1108.13 469.69 1094.22 458.25 1080.05 438.54 1059.37 398.36 1035.05 321.26 1041.91 249.69 1075.86 201.92 1124.1 190.9 1172.84 199.06 1207.31 246.87 1208.5 329.31 1184.84 403.11 1167.99 438.67 1154.15 458.15 1143.27 468.52 1131.98 474.11 1126.1 475.5" fill="none" stroke="#007f00" stroke-width="3.1" stroke-linejoin="round"/>
<path d="M1122.1 467.2L1130.4 475.5L1122.1 483.8L1113.8 475.5Z" fill="#007f00"/>
<path d="M1116.22 465.81L1124.52 474.11L1116.22 482.41L1107.92 474.11Z" fill="#007f00"/>
<path d="M1108.13 461.39L1116.43 469.69L1108.13 477.99L1099.83 469.69Z" fill="#007f00"/>
<path d="M1094.22 449.95L1102.52 458.25L1094.22 466.55L1085.92 458.25Z" fill="#007f00"/>
<path d="M1080.05 430.24L1088.35 438.54L1080.05 446.84L1071.75 438.54Z" fill="#007f00"/>
<path d="M1059.37 390.06L1067.67 398.36L1059.37 406.66L1051.07 398.36Z" fill="#007f00"/>
<path d="M1035.05 312.96L1043.35 321.26L1035.05 329.56L1026.75 321.26Z" fill="#007f00"/>
<path d="M1041.91 241.39L1050.21 249.69L1041.91 257.99L1033.61 249.69Z" fill="#007f00"/>
<path d="M1075.86 193.62L1084.16 201.92L1075.86 210.22L1067.56 201.92Z" fill="#007f00"/>
<path d="M1124.1 182.6L1132.4 190.9L1124.1 199.2L1115.8 190.9Z" fill="#007f00"/>
<path d="M1172.84 190.76L1181.14 199.06L1172.84 207.36L1164.54 199.06Z" fill="#007f00"/>
<path d="M1207.31 238.57L1215.61 246.87L1207.31 255.17L1199.01 246.87Z" fill="#007f00"/>
<path d="M1208.5 321.01L1216.8 329.31L1208.5 337.61L1200.2 329.31Z" fill="#007f00"/>
<path d="M1184.84 394.81L1193.14 403.11L1184.84 411.41L1176.54 403.11Z" fill="#007f00"/>
<path d="M1167.99 430.37L1176.29 438.67L1167.99 446.97L1159.69 438.67Z" fill="#007f00"/>
<path d="M1154.15 449.85L1162.45 458.15L1154.15 466.45L1145.85 458.15Z" fill="#007f00"/>
<path d="M1143.27 460.22L1151.57 468.52L1143.27 476.82L1134.97 468.52Z" fill="#007f00"/>
<path d="M1131.98 465.81L1140.28 474.11L1131.98 482.41L1123.68 474.11Z" fill="#007f00"/>
<path d="M1126.1 467.2L1134.4 475.5L1126.1 483.8L1117.8 475.5Z" fill="#007f00"/>
<path d="M1122.1 475.5 1117.21 474.28 1110 470.37 1099.85 461.5 1088.1 445.29 1075.89 418.05 1057 359.28 1055.56 287.19 1078.26 215.51 1124.1 191.1 1170.39 212.95 1192.3 288.13 1186.15 368.03 1168.97 422.03 1157.27 447.67 1145.4 463.2 1135.85 471.22 1130.01 474.46 1126.1 475.5" fill="none" stroke="#00007f" stroke-width="3.1" stroke-linejoin="round"/>
<path d="M1112.8 475.5L1126.6 467.4V483.6Z" fill="#00007f"/>
<path d="M1107.91 474.28L1121.71 466.18V482.38Z" fill="#00007f"/>
<path d="M1100.7 470.37L1114.5 462.27V478.47Z" fill="#00007f"/>
<path d="M1090.55 461.5L1104.35 453.4V469.6Z" fill="#00007f"/>
<path d="M1078.8 445.29L1092.6 437.19V453.39Z" fill="#00007f"/>
<path d="M1066.59 418.05L1080.39 409.95V426.15Z" fill="#00007f"/>
<path d="M1047.7 359.28L1061.5 351.18V367.38Z" fill="#00007f"/>
<path d="M1046.26 287.19L1060.06 279.09V295.29Z" fill="#00007f"/>
<path d="M1068.96 215.51L1082.76 207.41V223.61Z" fill="#00007f"/>
<path d="M1114.8 191.1L1128.6 183V199.2Z" fill="#00007f"/>
<path d="M1161.09 212.95L1174.89 204.85V221.05Z" fill="#00007f"/>
<path d="M1183 288.13L1196.8 280.03V296.23Z" fill="#00007f"/>
<path d="M1176.85 368.03L1190.65 359.93V376.13Z" fill="#00007f"/>
<path d="M1159.67 422.03L1173.47 413.93V430.13Z" fill="#00007f"/>
<path d="M1147.97 447.67L1161.77 439.57V455.77Z" fill="#00007f"/>
<path d="M1136.1 463.2L1149.9 455.1V471.3Z" fill="#00007f"/>
<path d="M1126.55 471.22L1140.35 463.12V479.32Z" fill="#00007f"/>
<path d="M1120.71 474.46L1134.51 466.36V482.56Z" fill="#00007f"/>
<path d="M1116.8 475.5L1130.6 467.4V483.6Z" fill="#00007f"/>
<path d="M810.5 516.5H883.5" stroke="#000" stroke-width="3.1" fill="none"/>
<rect x="841.25" y="510.75" width="11.5" height="11.5" fill="#000"/>
<text x="895.8" y="526.6" font-size="27.3" class="p">760 nm</text>
<path d="M1033.5 516.5H1106.5" stroke="#f00" stroke-width="3.1" fill="none"/>
<circle cx="1070" cy="516.5" r="6.7" fill="#f00"/>
<text x="1118.6" y="526.6" font-size="27.3" class="p">775 nm</text>
<path d="M1257 516.5H1330" stroke="#00f" stroke-width="3.1" fill="none"/>
<path d="M1293.5 507.2L1301.6 521H1285.4Z" fill="#00f"/>
<text x="1341.6" y="526.6" font-size="27.3" class="p">790 nm</text>
<path d="M810.5 555.4H883.5" stroke="#f0f" stroke-width="3.1" fill="none"/>
<path d="M847 564.7L855.1 550.9H838.9Z" fill="#f0f"/>
<text x="895.8" y="565.3" font-size="27.3" class="p">800 nm</text>
<path d="M1033.5 555.4H1106.5" stroke="#007f00" stroke-width="3.1" fill="none"/>
<path d="M1070 547.1L1078.3 555.4L1070 563.7L1061.7 555.4Z" fill="#007f00"/>
<text x="1118.6" y="565.3" font-size="27.3" class="p">815 nm</text>
<path d="M1257 555.4H1330" stroke="#00007f" stroke-width="3.1" fill="none"/>
<path d="M1284.2 555.4L1298 547.3V563.5Z" fill="#00007f"/>
<text x="1341.6" y="565.3" font-size="27.3" class="p">830 nm</text>
<rect x="110.75" y="776.5" width="565.0" height="457.4000000000001" fill="none" stroke="#000" stroke-width="2.2"/>
<path d="M173.53 1233.9v-9M299.08 1233.9v-9M424.64 1233.9v-9M550.19 1233.9v-9M675.75 1233.9v-9M110.75 1233.9v-5M236.31 1233.9v-5M361.86 1233.9v-5M487.42 1233.9v-5M612.97 1233.9v-5M145.4 776.5v9M247.15 776.5v9M361.61 776.5v9M491.33 776.5v9M639.59 776.5v9M194.82 776.5v5M302.64 776.5v5M424.38 776.5v5M562.91 776.5v5M110.75 1214.25h9M675.75 1214.25h-9M110.75 1134.55h9M675.75 1134.55h-9M110.75 1054.85h9M675.75 1054.85h-9M110.75 975.15h9M675.75 975.15h-9M110.75 895.45h9M675.75 895.45h-9M110.75 815.75h9M675.75 815.75h-9M110.75 1174.4h4.6M675.75 1174.4h-4.6M110.75 1094.7h4.6M675.75 1094.7h-4.6M110.75 1015h4.6M675.75 1015h-4.6M110.75 935.3h4.6M675.75 935.3h-4.6M110.75 855.6h4.6M675.75 855.6h-4.6" fill="none" stroke="#000" stroke-width="2"/>
<text transform="translate(173.53 1271.2) scale(1 1.035)" text-anchor="middle">700</text>
<text transform="translate(299.08 1271.2) scale(1 1.035)" text-anchor="middle">750</text>
<text transform="translate(424.64 1271.2) scale(1 1.035)" text-anchor="middle">800</text>
<text transform="translate(550.19 1271.2) scale(1 1.035)" text-anchor="middle">850</text>
<text transform="translate(675.75 1271.2) scale(1 1.035)" text-anchor="middle">900</text>
<text transform="translate(145.4 762.2) scale(1 1.035)" text-anchor="middle">1.8</text>
<text transform="translate(247.15 762.2) scale(1 1.035)" text-anchor="middle">1.7</text>
<text transform="translate(361.61 762.2) scale(1 1.035)" text-anchor="middle">1.6</text>
<text transform="translate(491.33 762.2) scale(1 1.035)" text-anchor="middle">1.5</text>
<text transform="translate(639.59 762.2) scale(1 1.035)" text-anchor="middle">1.4</text>
<text transform="translate(94.9 1224.65) scale(1 1.035)" text-anchor="end">0.0</text>
<text transform="translate(94.9 1144.95) scale(1 1.035)" text-anchor="end">0.2</text>
<text transform="translate(94.9 1065.25) scale(1 1.035)" text-anchor="end">0.4</text>
<text transform="translate(94.9 985.55) scale(1 1.035)" text-anchor="end">0.6</text>
<text transform="translate(94.9 905.85) scale(1 1.035)" text-anchor="end">0.8</text>
<text transform="translate(94.9 826.15) scale(1 1.035)" text-anchor="end">1.0</text>
<text x="393.25" y="1316.2" text-anchor="middle">Wavelength (nm)</text>
<text x="393.25" y="712.3" text-anchor="middle">Energy (eV)</text>
<text transform="translate(24.3 1005.2) rotate(-90)" text-anchor="middle" font-size="32.2">EL intensity (a.u.)</text>
<text transform="translate(1.5 716.8) scale(1.03 1.06)" font-weight="bold" font-size="41" class="p">c</text>
<path d="M110.75 1213.74 111.75 1213.72 112.75 1213.7 113.75 1213.68 114.75 1213.65 115.75 1213.63 116.75 1213.6 117.75 1213.58 118.75 1213.55 119.75 1213.52 120.75 1213.5 121.75 1213.47 122.75 1213.44 123.75 1213.41 124.75 1213.38 125.75 1213.35 126.75 1213.32 127.75 1213.29 128.75 1213.26 129.75 1213.23 130.75 1213.2 131.75 1213.16 132.75 1213.13 133.75 1213.1 134.75 1213.06 135.75 1213.03 136.75 1212.99 137.75 1212.96 138.75 1212.92 139.75 1212.88 140.75 1212.85 141.75 1212.81 142.75 1212.77 143.75 1212.74 144.75 1212.7 145.75 1212.66 146.75 1212.62 147.75 1212.58 148.75 1212.54 149.75 1212.5 150.75 1212.46 151.75 1212.43 152.75 1212.39 153.75 1212.35 154.75 1212.31 155.75 1212.27 156.75 1212.23 157.75 1212.19 158.75 1212.14 159.75 1212.1 160.75 1212.06 161.75 1212.02 162.75 1211.97 163.75 1211.93 164.75 1211.88 165.75 1211.84 166.75 1211.79 167.75 1211.74 168.75 1211.69 169.75 1211.64 170.75 1211.59 171.75 1211.53 172.75 1211.48 173.75 1211.42 174.75 1211.37 175.75 1211.31 176.75 1211.25 177.75 1211.19 178.75 1211.12 179.75 1211.06 180.75 1210.99 181.75 1210.92 182.75 1210.85 183.75 1210.78 184.75 1210.7 185.75 1210.63 186.75 1210.55 187.75 1210.46 188.75 1210.38 189.75 1210.28 190.75 1210.19 191.75 1210.08 192.75 1209.98 193.75 1209.87 194.75 1209.75 195.75 1209.63 196.75 1209.51 197.75 1209.38 198.75 1209.24 199.75 1209.1 200.75 1208.96 201.75 1208.81 202.75 1208.66 203.75 1208.5 204.75 1208.34 205.75 1208.17 206.75 1208 207.75 1207.83 208.75 1207.65 209.75 1207.46 210.75 1207.27 211.75 1207.08 212.75 1206.88 213.75 1206.68 214.75 1206.47 215.75 1206.26 216.75 1206.04 217.75 1205.82 218.75 1205.6 219.75 1205.37 220.75 1205.13 221.75 1204.89 222.75 1204.65 223.75 1204.4 224.75 1204.15 225.75 1203.89 226.75 1203.61 227.75 1203.31 228.75 1203 229.75 1202.67 230.75 1202.33 231.75 1201.97 232.75 1201.6 233.75 1201.21 234.75 1200.8 235.75 1200.39 236.75 1199.95 237.75 1199.51 238.75 1199.05 239.75 1198.57 240.75 1198.08 241.75 1197.58 242.75 1197.07 243.75 1196.54 244.75 1196 245.75 1195.44 246.75 1194.87 247.75 1194.29 248.75 1193.7 249.75 1193.09 250.75 1192.48 251.75 1191.85 252.75 1191.2 253.75 1190.55 254.75 1189.89 255.75 1189.21 256.75 1188.52 257.75 1187.82 258.75 1187.12 259.75 1186.4 260.75 1185.67 261.75 1184.92 262.75 1184.17 263.75 1183.4 264.75 1182.58 265.75 1181.74 266.75 1180.86 267.75 1179.94 268.75 1178.99 269.75 1178.01 270.75 1176.99 271.75 1175.94 272.75 1174.86 273.75 1173.75 274.75 1172.6 275.75 1171.43 276.75 1170.22 277.75 1168.98 278.75 1167.71 279.75 1166.41 280.75 1165.08 281.75 1163.72 282.75 1162.34 283.75 1160.92 284.75 1159.47 285.75 1158 286.75 1156.5 287.75 1154.97 288.75 1153.42 289.75 1151.83 290.75 1150.22 291.75 1148.59 292.75 1146.93 293.75 1145.24 294.75 1143.53 295.75 1141.79 296.75 1140.03 297.75 1138.25 298.75 1136.44 299.75 1134.61 300.75 1132.75 301.75 1130.83 302.75 1128.81 303.75 1126.7 304.75 1124.51 305.75 1122.23 306.75 1119.87 307.75 1117.44 308.75 1114.92 309.75 1112.34 310.75 1109.68 311.75 1106.95 312.75 1104.17 313.75 1101.32 314.75 1098.41 315.75 1095.44 316.75 1092.42 317.75 1089.35 318.75 1086.23 319.75 1083.07 320.75 1079.86 321.75 1076.62 322.75 1073.34 323.75 1070.02 324.75 1066.67 325.75 1063.3 326.75 1059.9 327.75 1056.48 328.75 1053.03 329.75 1049.57 330.75 1046.1 331.75 1042.61 332.75 1039.11 333.75 1035.61 334.75 1032.11 335.75 1028.6 336.75 1025.1 337.75 1021.6 338.75 1018.11 339.75 1014.55 340.75 1010.91 341.75 1007.17 342.75 1003.35 343.75 999.45 344.75 995.48 345.75 991.45 346.75 987.35 347.75 983.2 348.75 978.99 349.75 974.73 350.75 970.44 351.75 966.11 352.75 961.74 353.75 957.35 354.75 952.94 355.75 948.51 356.75 944.07 357.75 939.63 358.75 935.18 359.75 930.74 360.75 926.3 361.75 921.88 362.75 917.48 363.75 913.1 364.75 908.76 365.75 904.44 366.75 900.17 367.75 895.94 368.75 891.76 369.75 887.64 370.75 883.57 371.75 879.57 372.75 875.64 373.75 871.79 374.75 868.01 375.75 864.32 376.75 860.73 377.75 857.28 378.75 853.95 379.75 850.69 380.75 847.47 381.75 844.19 382.75 840.62 383.75 836.92 384.75 833.38 385.75 830.25 386.75 827.78 387.75 826.19 388.75 825.09 389.75 824.19 390.75 823.29 391.75 822.14 392.75 820.65 393.75 819.02 394.75 817.48 395.75 816.24 396.75 815.53 397.75 815.58 398.75 816.35 399.75 817.45 400.75 818.5 401.75 819.15 402.75 819.59 403.75 820 404.75 820.52 405.75 821.32 406.75 822.6 407.75 824.21 408.75 825.99 409.75 827.83 410.75 829.88 411.75 832.13 412.75 834.58 413.75 837.22 414.75 840.04 415.75 843.03 416.75 846.18 417.75 849.5 418.75 852.97 419.75 856.58 420.75 860.32 421.75 864.19 422.75 868.18 423.75 872.28 424.75 876.47 425.75 880.77 426.75 885.14 427.75 889.59 428.75 894.12 429.75 898.7 430.75 903.33 431.75 908 432.75 912.71 433.75 917.45 434.75 922.2 435.75 926.97 436.75 931.73 437.75 936.49 438.75 941.23 439.75 945.95 440.75 950.64 441.75 955.29 442.75 959.89 443.75 964.44 444.75 968.92 445.75 973.32 446.75 977.65 447.75 981.88 448.75 986.02 449.75 990.05 450.75 993.97 451.75 997.76 452.75 1001.49 453.75 1005.23 454.75 1008.99 455.75 1012.77 456.75 1016.55 457.75 1020.34 458.75 1024.13 459.75 1027.92 460.75 1031.71 461.75 1035.49 462.75 1039.25 463.75 1043 464.75 1046.73 465.75 1050.44 466.75 1054.12 467.75 1057.77 468.75 1061.39 469.75 1064.96 470.75 1068.5 471.75 1071.99 472.75 1075.44 473.75 1078.83 474.75 1082.17 475.75 1085.45 476.75 1088.66 477.75 1091.81 478.75 1094.89 479.75 1097.89 480.75 1100.82 481.75 1103.66 482.75 1106.43 483.75 1109.1 484.75 1111.68 485.75 1114.17 486.75 1116.55 487.75 1118.84 488.75 1121.02 489.75 1123.09 490.75 1125.11 491.75 1127.11 492.75 1129.08 493.75 1131.03 494.75 1132.95 495.75 1134.84 496.75 1136.71 497.75 1138.54 498.75 1140.35 499.75 1142.13 500.75 1143.88 501.75 1145.6 502.75 1147.29 503.75 1148.95 504.75 1150.58 505.75 1152.17 506.75 1153.74 507.75 1155.27 508.75 1156.78 509.75 1158.24 510.75 1159.68 511.75 1161.08 512.75 1162.45 513.75 1163.78 514.75 1165.08 515.75 1166.35 516.75 1167.58 517.75 1168.77 518.75 1169.93 519.75 1171.05 520.75 1172.13 521.75 1173.18 522.75 1174.19 523.75 1175.16 524.75 1176.09 525.75 1176.98 526.75 1177.83 527.75 1178.66 528.75 1179.47 529.75 1180.26 530.75 1181.05 531.75 1181.82 532.75 1182.58 533.75 1183.33 534.75 1184.06 535.75 1184.78 536.75 1185.49 537.75 1186.18 538.75 1186.87 539.75 1187.53 540.75 1188.19 541.75 1188.83 542.75 1189.46 543.75 1190.07 544.75 1190.67 545.75 1191.25 546.75 1191.82 547.75 1192.38 548.75 1192.92 549.75 1193.45 550.75 1193.96 551.75 1194.46 552.75 1194.94 553.75 1195.41 554.75 1195.86 555.75 1196.3 556.75 1196.72 557.75 1197.12 558.75 1197.51 559.75 1197.89 560.75 1198.25 561.75 1198.59 562.75 1198.92 563.75 1199.23 564.75 1199.52 565.75 1199.81 566.75 1200.09 567.75 1200.37 568.75 1200.63 569.75 1200.9 570.75 1201.15 571.75 1201.4 572.75 1201.65 573.75 1201.89 574.75 1202.12 575.75 1202.35 576.75 1202.57 577.75 1202.79 578.75 1203 579.75 1203.21 580.75 1203.41 581.75 1203.61 582.75 1203.81 583.75 1204 584.75 1204.18 585.75 1204.36 586.75 1204.54 587.75 1204.71 588.75 1204.88 589.75 1205.04 590.75 1205.2 591.75 1205.36 592.75 1205.51 593.75 1205.66 594.75 1205.81 595.75 1205.95 596.75 1206.1 597.75 1206.23 598.75 1206.37 599.75 1206.5 600.75 1206.63 601.75 1206.75 602.75 1206.88 603.75 1207 604.75 1207.12 605.75 1207.24 606.75 1207.36 607.75 1207.47 608.75 1207.59 609.75 1207.7 610.75 1207.81 611.75 1207.92 612.75 1208.03 613.75 1208.13 614.75 1208.23 615.75 1208.33 616.75 1208.43 617.75 1208.53 618.75 1208.63 619.75 1208.72 620.75 1208.81 621.75 1208.9 622.75 1208.99 623.75 1209.08 624.75 1209.16 625.75 1209.25 626.75 1209.33 627.75 1209.41 628.75 1209.49 629.75 1209.56 630.75 1209.64 631.75 1209.71 632.75 1209.78 633.75 1209.85 634.75 1209.91 635.75 1209.98 636.75 1210.04 637.75 1210.1 638.75 1210.16 639.75 1210.22 640.75 1210.28 641.75 1210.34 642.75 1210.4 643.75 1210.45 644.75 1210.51 645.75 1210.56 646.75 1210.62 647.75 1210.67 648.75 1210.73 649.75 1210.78 650.75 1210.83 651.75 1210.88 652.75 1210.93 653.75 1210.98 654.75 1211.03 655.75 1211.08 656.75 1211.12 657.75 1211.17 658.75 1211.21 659.75 1211.26 660.75 1211.3 661.75 1211.34 662.75 1211.38 663.75 1211.42 664.75 1211.45 665.75 1211.49 666.75 1211.52 667.75 1211.56 668.75 1211.59 669.75 1211.62 670.75 1211.64 671.75 1211.67 672.75 1211.69 673.75 1211.72 674.75 1211.74 675.75 1211.76" fill="none" stroke="#000" stroke-width="3.3" stroke-linejoin="round"/>
<rect x="103.81" y="1207.2" width="13.1" height="13.1" fill="#fff" stroke="#000" stroke-width="3.2" stroke-linejoin="round"/>
<rect x="141.92" y="1206" width="13.1" height="13.1" fill="#fff" stroke="#000" stroke-width="3.2" stroke-linejoin="round"/>
<rect x="180" y="1204.01" width="13.1" height="13.1" fill="#fff" stroke="#000" stroke-width="3.2" stroke-linejoin="round"/>
<rect x="218.06" y="1197.64" width="13.1" height="13.1" fill="#fff" stroke="#000" stroke-width="3.2" stroke-linejoin="round"/>
<rect x="256.08" y="1177.71" width="13.1" height="13.1" fill="#fff" stroke="#000" stroke-width="3.2" stroke-linejoin="round"/>
<rect x="294.06" y="1126.46" width="13.1" height="13.1" fill="#fff" stroke="#000" stroke-width="3.2" stroke-linejoin="round"/>
<rect x="331.98" y="1012.33" width="13.1" height="13.1" fill="#fff" stroke="#000" stroke-width="3.2" stroke-linejoin="round"/>
<rect x="369.83" y="855.48" width="13.1" height="13.1" fill="#fff" stroke="#000" stroke-width="3.2" stroke-linejoin="round"/>
<rect x="407.61" y="831.81" width="13.1" height="13.1" fill="#fff" stroke="#000" stroke-width="3.2" stroke-linejoin="round"/>
<rect x="445.31" y="991.61" width="13.1" height="13.1" fill="#fff" stroke="#000" stroke-width="3.2" stroke-linejoin="round"/>
<rect x="482.91" y="1115.94" width="13.1" height="13.1" fill="#fff" stroke="#000" stroke-width="3.2" stroke-linejoin="round"/>
<rect x="520.41" y="1171.45" width="13.1" height="13.1" fill="#fff" stroke="#000" stroke-width="3.2" stroke-linejoin="round"/>
<rect x="557.79" y="1192.85" width="13.1" height="13.1" fill="#fff" stroke="#000" stroke-width="3.2" stroke-linejoin="round"/>
<rect x="595.05" y="1200.19" width="13.1" height="13.1" fill="#fff" stroke="#000" stroke-width="3.2" stroke-linejoin="round"/>
<rect x="632.18" y="1203.61" width="13.1" height="13.1" fill="#fff" stroke="#000" stroke-width="3.2" stroke-linejoin="round"/>
<rect x="669.17" y="1205.21" width="13.1" height="13.1" fill="#fff" stroke="#000" stroke-width="3.2" stroke-linejoin="round"/>
<path d="M110.75 1213.75 111.75 1213.74 112.75 1213.73 113.75 1213.73 114.75 1213.72 115.75 1213.71 116.75 1213.69 117.75 1213.68 118.75 1213.67 119.75 1213.65 120.75 1213.64 121.75 1213.62 122.75 1213.6 123.75 1213.59 124.75 1213.57 125.75 1213.55 126.75 1213.53 127.75 1213.51 128.75 1213.48 129.75 1213.46 130.75 1213.44 131.75 1213.41 132.75 1213.39 133.75 1213.37 134.75 1213.34 135.75 1213.31 136.75 1213.29 137.75 1213.26 138.75 1213.23 139.75 1213.21 140.75 1213.18 141.75 1213.15 142.75 1213.12 143.75 1213.09 144.75 1213.06 145.75 1213.03 146.75 1213 147.75 1212.97 148.75 1212.94 149.75 1212.91 150.75 1212.88 151.75 1212.85 152.75 1212.82 153.75 1212.78 154.75 1212.74 155.75 1212.71 156.75 1212.67 157.75 1212.63 158.75 1212.59 159.75 1212.55 160.75 1212.5 161.75 1212.46 162.75 1212.41 163.75 1212.37 164.75 1212.32 165.75 1212.27 166.75 1212.22 167.75 1212.17 168.75 1212.12 169.75 1212.06 170.75 1212.01 171.75 1211.95 172.75 1211.89 173.75 1211.83 174.75 1211.77 175.75 1211.71 176.75 1211.65 177.75 1211.59 178.75 1211.52 179.75 1211.45 180.75 1211.38 181.75 1211.31 182.75 1211.24 183.75 1211.17 184.75 1211.1 185.75 1211.02 186.75 1210.95 187.75 1210.87 188.75 1210.78 189.75 1210.7 190.75 1210.61 191.75 1210.52 192.75 1210.42 193.75 1210.32 194.75 1210.22 195.75 1210.11 196.75 1210 197.75 1209.89 198.75 1209.77 199.75 1209.65 200.75 1209.52 201.75 1209.39 202.75 1209.26 203.75 1209.13 204.75 1208.99 205.75 1208.84 206.75 1208.7 207.75 1208.55 208.75 1208.39 209.75 1208.23 210.75 1208.07 211.75 1207.9 212.75 1207.73 213.75 1207.56 214.75 1207.38 215.75 1207.19 216.75 1207.01 217.75 1206.81 218.75 1206.62 219.75 1206.42 220.75 1206.21 221.75 1206 222.75 1205.79 223.75 1205.57 224.75 1205.35 225.75 1205.12 226.75 1204.87 227.75 1204.6 228.75 1204.33 229.75 1204.03 230.75 1203.73 231.75 1203.4 232.75 1203.07 233.75 1202.72 234.75 1202.36 235.75 1201.98 236.75 1201.59 237.75 1201.18 238.75 1200.77 239.75 1200.34 240.75 1199.9 241.75 1199.44 242.75 1198.98 243.75 1198.5 244.75 1198.01 245.75 1197.51 246.75 1196.99 247.75 1196.47 248.75 1195.93 249.75 1195.39 250.75 1194.83 251.75 1194.26 252.75 1193.68 253.75 1193.09 254.75 1192.5 255.75 1191.89 256.75 1191.27 257.75 1190.64 258.75 1190.01 259.75 1189.36 260.75 1188.71 261.75 1188.04 262.75 1187.37 263.75 1186.68 264.75 1185.95 265.75 1185.2 266.75 1184.42 267.75 1183.61 268.75 1182.77 269.75 1181.91 270.75 1181.01 271.75 1180.09 272.75 1179.14 273.75 1178.16 274.75 1177.15 275.75 1176.12 276.75 1175.06 277.75 1173.98 278.75 1172.86 279.75 1171.73 280.75 1170.56 281.75 1169.37 282.75 1168.16 283.75 1166.92 284.75 1165.65 285.75 1164.36 286.75 1163.05 287.75 1161.71 288.75 1160.34 289.75 1158.96 290.75 1157.55 291.75 1156.11 292.75 1154.65 293.75 1153.17 294.75 1151.67 295.75 1150.14 296.75 1148.6 297.75 1147.03 298.75 1145.44 299.75 1143.82 300.75 1142.19 301.75 1140.49 302.75 1138.71 303.75 1136.85 304.75 1134.91 305.75 1132.9 306.75 1130.81 307.75 1128.66 308.75 1126.43 309.75 1124.14 310.75 1121.79 311.75 1119.38 312.75 1116.91 313.75 1114.38 314.75 1111.8 315.75 1109.17 316.75 1106.49 317.75 1103.77 318.75 1101.01 319.75 1098.2 320.75 1095.35 321.75 1092.47 322.75 1089.56 323.75 1086.62 324.75 1083.65 325.75 1080.65 326.75 1077.63 327.75 1074.59 328.75 1071.53 329.75 1068.46 330.75 1065.37 331.75 1062.28 332.75 1059.17 333.75 1056.06 334.75 1052.95 335.75 1049.83 336.75 1046.72 337.75 1043.62 338.75 1040.51 339.75 1037.34 340.75 1034.08 341.75 1030.73 342.75 1027.3 343.75 1023.79 344.75 1020.2 345.75 1016.55 346.75 1012.84 347.75 1009.08 348.75 1005.26 349.75 1001.4 350.75 997.5 351.75 993.57 352.75 989.61 353.75 985.62 354.75 981.62 355.75 977.61 356.75 973.59 357.75 969.57 358.75 965.56 359.75 961.56 360.75 957.57 361.75 953.61 362.75 949.67 363.75 945.76 364.75 941.89 365.75 938.07 366.75 934.29 367.75 930.57 368.75 926.91 369.75 923.32 370.75 919.79 371.75 916.35 372.75 912.98 373.75 909.7 374.75 906.51 375.75 903.43 376.75 900.44 377.75 897.48 378.75 894.55 379.75 891.67 380.75 888.87 381.75 886.15 382.75 883.55 383.75 881.08 384.75 878.76 385.75 876.61 386.75 874.63 387.75 872.77 388.75 871.04 389.75 869.47 390.75 868.11 391.75 866.94 392.75 865.75 393.75 864.6 394.75 863.54 395.75 862.65 396.75 861.99 397.75 861.64 398.75 861.63 399.75 861.88 400.75 862.32 401.75 862.9 402.75 863.58 403.75 864.32 404.75 865.14 405.75 866.29 406.75 867.7 407.75 869.26 408.75 870.85 409.75 872.4 410.75 873.97 411.75 875.6 412.75 877.37 413.75 879.33 414.75 881.52 415.75 883.9 416.75 886.47 417.75 889.2 418.75 892.1 419.75 895.16 420.75 898.36 421.75 901.69 422.75 905.16 423.75 908.74 424.75 912.43 425.75 916.23 426.75 920.12 427.75 924.09 428.75 928.14 429.75 932.25 430.75 936.43 431.75 940.65 432.75 944.91 433.75 949.2 434.75 953.52 435.75 957.85 436.75 962.19 437.75 966.52 438.75 970.84 439.75 975.14 440.75 979.41 441.75 983.64 442.75 987.83 443.75 991.96 444.75 996.02 445.75 1000.01 446.75 1003.92 447.75 1007.73 448.75 1011.45 449.75 1015.06 450.75 1018.55 451.75 1021.92 452.75 1025.21 453.75 1028.51 454.75 1031.83 455.75 1035.15 456.75 1038.48 457.75 1041.81 458.75 1045.14 459.75 1048.46 460.75 1051.78 461.75 1055.09 462.75 1058.39 463.75 1061.67 464.75 1064.93 465.75 1068.18 466.75 1071.39 467.75 1074.59 468.75 1077.75 469.75 1080.88 470.75 1083.98 471.75 1087.03 472.75 1090.05 473.75 1093.02 474.75 1095.95 475.75 1098.82 476.75 1101.65 477.75 1104.42 478.75 1107.13 479.75 1109.78 480.75 1112.36 481.75 1114.88 482.75 1117.33 483.75 1119.7 484.75 1122 485.75 1124.23 486.75 1126.37 487.75 1128.43 488.75 1130.4 489.75 1132.28 490.75 1134.13 491.75 1135.96 492.75 1137.76 493.75 1139.55 494.75 1141.32 495.75 1143.07 496.75 1144.79 497.75 1146.49 498.75 1148.17 499.75 1149.82 500.75 1151.45 501.75 1153.05 502.75 1154.63 503.75 1156.18 504.75 1157.7 505.75 1159.2 506.75 1160.66 507.75 1162.1 508.75 1163.5 509.75 1164.88 510.75 1166.22 511.75 1167.54 512.75 1168.81 513.75 1170.06 514.75 1171.27 515.75 1172.45 516.75 1173.59 517.75 1174.7 518.75 1175.76 519.75 1176.8 520.75 1177.79 521.75 1178.74 522.75 1179.66 523.75 1180.54 524.75 1181.37 525.75 1182.16 526.75 1182.92 527.75 1183.63 528.75 1184.34 529.75 1185.03 530.75 1185.72 531.75 1186.39 532.75 1187.04 533.75 1187.69 534.75 1188.32 535.75 1188.94 536.75 1189.55 537.75 1190.15 538.75 1190.73 539.75 1191.3 540.75 1191.86 541.75 1192.41 542.75 1192.94 543.75 1193.46 544.75 1193.97 545.75 1194.47 546.75 1194.95 547.75 1195.42 548.75 1195.88 549.75 1196.33 550.75 1196.76 551.75 1197.18 552.75 1197.59 553.75 1197.99 554.75 1198.37 555.75 1198.74 556.75 1199.1 557.75 1199.44 558.75 1199.78 559.75 1200.1 560.75 1200.4 561.75 1200.7 562.75 1200.98 563.75 1201.24 564.75 1201.5 565.75 1201.75 566.75 1201.99 567.75 1202.23 568.75 1202.46 569.75 1202.69 570.75 1202.92 571.75 1203.14 572.75 1203.35 573.75 1203.56 574.75 1203.76 575.75 1203.96 576.75 1204.16 577.75 1204.35 578.75 1204.54 579.75 1204.72 580.75 1204.9 581.75 1205.07 582.75 1205.24 583.75 1205.41 584.75 1205.57 585.75 1205.73 586.75 1205.88 587.75 1206.03 588.75 1206.18 589.75 1206.32 590.75 1206.46 591.75 1206.6 592.75 1206.73 593.75 1206.86 594.75 1206.99 595.75 1207.11 596.75 1207.23 597.75 1207.35 598.75 1207.46 599.75 1207.57 600.75 1207.68 601.75 1207.79 602.75 1207.89 603.75 1207.99 604.75 1208.09 605.75 1208.19 606.75 1208.28 607.75 1208.38 608.75 1208.47 609.75 1208.56 610.75 1208.65 611.75 1208.73 612.75 1208.82 613.75 1208.9 614.75 1208.98 615.75 1209.06 616.75 1209.14 617.75 1209.22 618.75 1209.29 619.75 1209.37 620.75 1209.44 621.75 1209.51 622.75 1209.58 623.75 1209.65 624.75 1209.72 625.75 1209.78 626.75 1209.85 627.75 1209.91 628.75 1209.98 629.75 1210.04 630.75 1210.1 631.75 1210.16 632.75 1210.22 633.75 1210.28 634.75 1210.34 635.75 1210.4 636.75 1210.45 637.75 1210.51 638.75 1210.56 639.75 1210.62 640.75 1210.67 641.75 1210.73 642.75 1210.78 643.75 1210.83 644.75 1210.88 645.75 1210.94 646.75 1210.99 647.75 1211.04 648.75 1211.09 649.75 1211.14 650.75 1211.19 651.75 1211.23 652.75 1211.28 653.75 1211.33 654.75 1211.38 655.75 1211.42 656.75 1211.47 657.75 1211.51 658.75 1211.55 659.75 1211.6 660.75 1211.64 661.75 1211.68 662.75 1211.72 663.75 1211.76 664.75 1211.8 665.75 1211.83 666.75 1211.87 667.75 1211.91 668.75 1211.94 669.75 1211.98 670.75 1212.01 671.75 1212.04 672.75 1212.07 673.75 1212.1 674.75 1212.13 675.75 1212.16" fill="none" stroke="#f00" stroke-width="3.3" stroke-linejoin="round"/>
<circle cx="110.36" cy="1213.75" r="7.8" fill="#fff" stroke="#f00" stroke-width="3.2"/>
<circle cx="148.47" cy="1212.95" r="7.8" fill="#fff" stroke="#f00" stroke-width="3.2"/>
<circle cx="186.55" cy="1210.96" r="7.8" fill="#fff" stroke="#f00" stroke-width="3.2"/>
<circle cx="224.61" cy="1205.38" r="7.8" fill="#fff" stroke="#f00" stroke-width="3.2"/>
<circle cx="262.63" cy="1187.45" r="7.8" fill="#fff" stroke="#f00" stroke-width="3.2"/>
<circle cx="300.61" cy="1142.42" r="7.8" fill="#fff" stroke="#f00" stroke-width="3.2"/>
<circle cx="338.53" cy="1041.2" r="7.8" fill="#fff" stroke="#f00" stroke-width="3.2"/>
<circle cx="376.38" cy="901.53" r="7.8" fill="#fff" stroke="#f00" stroke-width="3.2"/>
<circle cx="414.16" cy="880.21" r="7.8" fill="#fff" stroke="#f00" stroke-width="3.2"/>
<circle cx="451.86" cy="1022.27" r="7.8" fill="#fff" stroke="#f00" stroke-width="3.2"/>
<circle cx="489.46" cy="1131.74" r="7.8" fill="#fff" stroke="#f00" stroke-width="3.2"/>
<circle cx="526.96" cy="1183.07" r="7.8" fill="#fff" stroke="#f00" stroke-width="3.2"/>
<circle cx="564.34" cy="1201.4" r="7.8" fill="#fff" stroke="#f00" stroke-width="3.2"/>
<circle cx="601.6" cy="1207.77" r="7.8" fill="#fff" stroke="#f00" stroke-width="3.2"/>
<circle cx="638.73" cy="1210.56" r="7.8" fill="#fff" stroke="#f00" stroke-width="3.2"/>
<circle cx="675.72" cy="1212.16" r="7.8" fill="#fff" stroke="#f00" stroke-width="3.2"/>
<path d="M110.75 1213.75 111.75 1213.75 112.75 1213.75 113.75 1213.75 114.75 1213.74 115.75 1213.74 116.75 1213.73 117.75 1213.73 118.75 1213.72 119.75 1213.72 120.75 1213.71 121.75 1213.7 122.75 1213.69 123.75 1213.68 124.75 1213.68 125.75 1213.67 126.75 1213.66 127.75 1213.64 128.75 1213.63 129.75 1213.62 130.75 1213.61 131.75 1213.6 132.75 1213.58 133.75 1213.57 134.75 1213.56 135.75 1213.54 136.75 1213.53 137.75 1213.52 138.75 1213.5 139.75 1213.49 140.75 1213.47 141.75 1213.46 142.75 1213.44 143.75 1213.43 144.75 1213.41 145.75 1213.39 146.75 1213.38 147.75 1213.36 148.75 1213.35 149.75 1213.33 150.75 1213.31 151.75 1213.3 152.75 1213.28 153.75 1213.26 154.75 1213.24 155.75 1213.22 156.75 1213.19 157.75 1213.17 158.75 1213.15 159.75 1213.12 160.75 1213.1 161.75 1213.07 162.75 1213.04 163.75 1213.02 164.75 1212.99 165.75 1212.96 166.75 1212.93 167.75 1212.9 168.75 1212.86 169.75 1212.83 170.75 1212.8 171.75 1212.76 172.75 1212.73 173.75 1212.69 174.75 1212.65 175.75 1212.62 176.75 1212.58 177.75 1212.54 178.75 1212.5 179.75 1212.46 180.75 1212.42 181.75 1212.37 182.75 1212.33 183.75 1212.28 184.75 1212.24 185.75 1212.19 186.75 1212.15 187.75 1212.1 188.75 1212.05 189.75 1211.99 190.75 1211.94 191.75 1211.88 192.75 1211.82 193.75 1211.75 194.75 1211.69 195.75 1211.62 196.75 1211.55 197.75 1211.48 198.75 1211.4 199.75 1211.32 200.75 1211.24 201.75 1211.16 202.75 1211.07 203.75 1210.99 204.75 1210.89 205.75 1210.8 206.75 1210.71 207.75 1210.61 208.75 1210.51 209.75 1210.4 210.75 1210.3 211.75 1210.19 212.75 1210.08 213.75 1209.97 214.75 1209.85 215.75 1209.73 216.75 1209.61 217.75 1209.49 218.75 1209.36 219.75 1209.23 220.75 1209.1 221.75 1208.97 222.75 1208.83 223.75 1208.69 224.75 1208.55 225.75 1208.4 226.75 1208.24 227.75 1208.08 228.75 1207.9 229.75 1207.72 230.75 1207.52 231.75 1207.32 232.75 1207.11 233.75 1206.89 234.75 1206.66 235.75 1206.43 236.75 1206.18 237.75 1205.93 238.75 1205.67 239.75 1205.4 240.75 1205.13 241.75 1204.85 242.75 1204.56 243.75 1204.26 244.75 1203.95 245.75 1203.64 246.75 1203.32 247.75 1203 248.75 1202.67 249.75 1202.33 250.75 1201.98 251.75 1201.63 252.75 1201.27 253.75 1200.91 254.75 1200.54 255.75 1200.16 256.75 1199.78 257.75 1199.39 258.75 1198.99 259.75 1198.59 260.75 1198.19 261.75 1197.78 262.75 1197.36 263.75 1196.93 264.75 1196.49 265.75 1196.03 266.75 1195.55 267.75 1195.05 268.75 1194.53 269.75 1194 270.75 1193.46 271.75 1192.89 272.75 1192.31 273.75 1191.71 274.75 1191.1 275.75 1190.47 276.75 1189.83 277.75 1189.17 278.75 1188.49 279.75 1187.79 280.75 1187.09 281.75 1186.36 282.75 1185.62 283.75 1184.87 284.75 1184.1 285.75 1183.31 286.75 1182.51 287.75 1181.69 288.75 1180.86 289.75 1180.02 290.75 1179.16 291.75 1178.28 292.75 1177.39 293.75 1176.49 294.75 1175.57 295.75 1174.64 296.75 1173.7 297.75 1172.74 298.75 1171.76 299.75 1170.77 300.75 1169.77 301.75 1168.73 302.75 1167.64 303.75 1166.5 304.75 1165.32 305.75 1164.08 306.75 1162.8 307.75 1161.48 308.75 1160.11 309.75 1158.7 310.75 1157.26 311.75 1155.78 312.75 1154.26 313.75 1152.7 314.75 1151.12 315.75 1149.5 316.75 1147.85 317.75 1146.17 318.75 1144.47 319.75 1142.74 320.75 1140.99 321.75 1139.21 322.75 1137.42 323.75 1135.6 324.75 1133.77 325.75 1131.92 326.75 1130.06 327.75 1128.18 328.75 1126.29 329.75 1124.39 330.75 1122.48 331.75 1120.57 332.75 1118.65 333.75 1116.72 334.75 1114.79 335.75 1112.86 336.75 1110.94 337.75 1109.01 338.75 1107.08 339.75 1105.12 340.75 1103.1 341.75 1101.02 342.75 1098.9 343.75 1096.73 344.75 1094.52 345.75 1092.26 346.75 1089.97 347.75 1087.64 348.75 1085.28 349.75 1082.9 350.75 1080.48 351.75 1078.05 352.75 1075.6 353.75 1073.13 354.75 1070.65 355.75 1068.17 356.75 1065.67 357.75 1063.18 358.75 1060.68 359.75 1058.19 360.75 1055.7 361.75 1053.22 362.75 1050.76 363.75 1048.31 364.75 1045.88 365.75 1043.47 366.75 1041.09 367.75 1038.74 368.75 1036.42 369.75 1034.13 370.75 1031.88 371.75 1029.68 372.75 1027.51 373.75 1025.4 374.75 1023.33 375.75 1021.32 376.75 1019.36 377.75 1017.35 378.75 1015.3 379.75 1013.24 380.75 1011.21 381.75 1009.24 382.75 1007.36 383.75 1005.61 384.75 1004.01 385.75 1002.62 386.75 1001.45 387.75 1000.51 388.75 999.62 389.75 998.74 390.75 997.92 391.75 997.15 392.75 996.46 393.75 995.87 394.75 995.41 395.75 995.08 396.75 994.91 397.75 994.91 398.75 995 399.75 995.17 400.75 995.4 401.75 995.69 402.75 996.02 403.75 996.39 404.75 996.78 405.75 997.22 406.75 997.81 407.75 998.56 408.75 999.45 409.75 1000.45 410.75 1001.55 411.75 1002.72 412.75 1003.95 413.75 1005.21 414.75 1006.5 415.75 1007.91 416.75 1009.43 417.75 1011.06 418.75 1012.8 419.75 1014.64 420.75 1016.58 421.75 1018.61 422.75 1020.72 423.75 1022.9 424.75 1025.16 425.75 1027.49 426.75 1029.88 427.75 1032.33 428.75 1034.82 429.75 1037.36 430.75 1039.94 431.75 1042.55 432.75 1045.19 433.75 1047.85 434.75 1050.53 435.75 1053.22 436.75 1055.92 437.75 1058.61 438.75 1061.3 439.75 1063.98 440.75 1066.64 441.75 1069.28 442.75 1071.89 443.75 1074.46 444.75 1077 445.75 1079.49 446.75 1081.93 447.75 1084.32 448.75 1086.64 449.75 1088.9 450.75 1091.08 451.75 1093.18 452.75 1095.24 453.75 1097.31 454.75 1099.39 455.75 1101.48 456.75 1103.57 457.75 1105.67 458.75 1107.77 459.75 1109.87 460.75 1111.97 461.75 1114.06 462.75 1116.15 463.75 1118.23 464.75 1120.3 465.75 1122.35 466.75 1124.4 467.75 1126.42 468.75 1128.43 469.75 1130.42 470.75 1132.38 471.75 1134.33 472.75 1136.24 473.75 1138.13 474.75 1139.99 475.75 1141.81 476.75 1143.6 477.75 1145.35 478.75 1147.07 479.75 1148.74 480.75 1150.38 481.75 1151.97 482.75 1153.51 483.75 1155 484.75 1156.44 485.75 1157.84 486.75 1159.17 487.75 1160.45 488.75 1161.67 489.75 1162.84 490.75 1163.97 491.75 1165.1 492.75 1166.21 493.75 1167.3 494.75 1168.38 495.75 1169.44 496.75 1170.49 497.75 1171.52 498.75 1172.54 499.75 1173.54 500.75 1174.52 501.75 1175.49 502.75 1176.44 503.75 1177.37 504.75 1178.29 505.75 1179.19 506.75 1180.07 507.75 1180.94 508.75 1181.78 509.75 1182.61 510.75 1183.42 511.75 1184.22 512.75 1184.99 513.75 1185.74 514.75 1186.48 515.75 1187.19 516.75 1187.89 517.75 1188.57 518.75 1189.22 519.75 1189.86 520.75 1190.47 521.75 1191.07 522.75 1191.64 523.75 1192.2 524.75 1192.73 525.75 1193.24 526.75 1193.73 527.75 1194.2 528.75 1194.66 529.75 1195.12 530.75 1195.57 531.75 1196.01 532.75 1196.45 533.75 1196.88 534.75 1197.3 535.75 1197.71 536.75 1198.12 537.75 1198.52 538.75 1198.91 539.75 1199.3 540.75 1199.67 541.75 1200.04 542.75 1200.4 543.75 1200.76 544.75 1201.1 545.75 1201.44 546.75 1201.77 547.75 1202.09 548.75 1202.4 549.75 1202.7 550.75 1203 551.75 1203.29 552.75 1203.57 553.75 1203.84 554.75 1204.1 555.75 1204.36 556.75 1204.6 557.75 1204.84 558.75 1205.07 559.75 1205.29 560.75 1205.5 561.75 1205.7 562.75 1205.89 563.75 1206.07 564.75 1206.25 565.75 1206.42 566.75 1206.59 567.75 1206.75 568.75 1206.91 569.75 1207.07 570.75 1207.23 571.75 1207.38 572.75 1207.53 573.75 1207.68 574.75 1207.82 575.75 1207.96 576.75 1208.1 577.75 1208.23 578.75 1208.36 579.75 1208.49 580.75 1208.62 581.75 1208.74 582.75 1208.86 583.75 1208.98 584.75 1209.09 585.75 1209.2 586.75 1209.31 587.75 1209.41 588.75 1209.51 589.75 1209.61 590.75 1209.71 591.75 1209.8 592.75 1209.89 593.75 1209.98 594.75 1210.06 595.75 1210.14 596.75 1210.22 597.75 1210.3 598.75 1210.37 599.75 1210.44 600.75 1210.51 601.75 1210.57 602.75 1210.63 603.75 1210.69 604.75 1210.75 605.75 1210.81 606.75 1210.87 607.75 1210.92 608.75 1210.98 609.75 1211.03 610.75 1211.08 611.75 1211.13 612.75 1211.18 613.75 1211.23 614.75 1211.28 615.75 1211.32 616.75 1211.37 617.75 1211.41 618.75 1211.46 619.75 1211.5 620.75 1211.54 621.75 1211.58 622.75 1211.62 623.75 1211.66 624.75 1211.7 625.75 1211.74 626.75 1211.77 627.75 1211.81 628.75 1211.84 629.75 1211.88 630.75 1211.91 631.75 1211.94 632.75 1211.98 633.75 1212.01 634.75 1212.04 635.75 1212.07 636.75 1212.1 637.75 1212.13 638.75 1212.16 639.75 1212.19 640.75 1212.21 641.75 1212.24 642.75 1212.27 643.75 1212.3 644.75 1212.32 645.75 1212.35 646.75 1212.38 647.75 1212.4 648.75 1212.43 649.75 1212.46 650.75 1212.48 651.75 1212.51 652.75 1212.53 653.75 1212.56 654.75 1212.58 655.75 1212.6 656.75 1212.63 657.75 1212.65 658.75 1212.67 659.75 1212.69 660.75 1212.71 661.75 1212.73 662.75 1212.75 663.75 1212.77 664.75 1212.79 665.75 1212.81 666.75 1212.83 667.75 1212.84 668.75 1212.86 669.75 1212.87 670.75 1212.89 671.75 1212.9 672.75 1212.92 673.75 1212.93 674.75 1212.94 675.75 1212.95" fill="none" stroke="#00f" stroke-width="3.3" stroke-linejoin="round"/>
<path d="M110.36 1202.95L120.06 1219.55H100.66Z" fill="#fff" stroke="#00f" stroke-width="3.2" stroke-linejoin="round"/>
<path d="M148.47 1202.55L158.17 1219.15H138.77Z" fill="#fff" stroke="#00f" stroke-width="3.2" stroke-linejoin="round"/>
<path d="M186.55 1201.36L196.25 1217.96H176.85Z" fill="#fff" stroke="#00f" stroke-width="3.2" stroke-linejoin="round"/>
<path d="M224.61 1197.77L234.31 1214.37H214.91Z" fill="#fff" stroke="#00f" stroke-width="3.2" stroke-linejoin="round"/>
<path d="M262.63 1186.61L272.33 1203.21H252.93Z" fill="#fff" stroke="#00f" stroke-width="3.2" stroke-linejoin="round"/>
<path d="M300.61 1159.12L310.31 1175.71H290.91Z" fill="#fff" stroke="#00f" stroke-width="3.2" stroke-linejoin="round"/>
<path d="M338.53 1096.71L348.23 1113.31H328.83Z" fill="#fff" stroke="#00f" stroke-width="3.2" stroke-linejoin="round"/>
<path d="M376.38 1009.28L386.08 1025.88H366.68Z" fill="#fff" stroke="#00f" stroke-width="3.2" stroke-linejoin="round"/>
<path d="M414.16 994.93L423.86 1011.53H404.46Z" fill="#fff" stroke="#00f" stroke-width="3.2" stroke-linejoin="round"/>
<path d="M451.86 1082.6L461.56 1099.2H442.16Z" fill="#fff" stroke="#00f" stroke-width="3.2" stroke-linejoin="round"/>
<path d="M489.46 1151.7L499.16 1168.3H479.76Z" fill="#fff" stroke="#00f" stroke-width="3.2" stroke-linejoin="round"/>
<path d="M526.96 1183.03L536.66 1199.62H517.26Z" fill="#fff" stroke="#00f" stroke-width="3.2" stroke-linejoin="round"/>
<path d="M564.34 1195.38L574.04 1211.98H554.64Z" fill="#fff" stroke="#00f" stroke-width="3.2" stroke-linejoin="round"/>
<path d="M601.6 1199.76L611.3 1216.36H591.9Z" fill="#fff" stroke="#00f" stroke-width="3.2" stroke-linejoin="round"/>
<path d="M638.73 1201.36L648.43 1217.96H629.03Z" fill="#fff" stroke="#00f" stroke-width="3.2" stroke-linejoin="round"/>
<path d="M675.72 1202.15L685.42 1218.75H666.02Z" fill="#fff" stroke="#00f" stroke-width="3.2" stroke-linejoin="round"/>
<path d="M109.7 776.5H675.75V1234.95" fill="none" stroke="#000" stroke-width="2.2"/>
<path d="M503.3 838.1H573.7" stroke="#000" stroke-width="3.3" fill="none"/>
<rect x="531.75" y="831.55" width="13.1" height="13.1" fill="#fff" stroke="#000" stroke-width="3.2" stroke-linejoin="round"/>
<text x="584.3" y="848.9" font-size="30.5">0<tspan dx="-0.5">°</tspan></text>
<path d="M503.3 874.8H573.7" stroke="#f00" stroke-width="3.3" fill="none"/>
<circle cx="538.3" cy="874.8" r="7.8" fill="#fff" stroke="#f00" stroke-width="3.2"/>
<text x="583.1" y="885.6" font-size="30.5">30<tspan dx="-0.5">°</tspan></text>
<path d="M503.3 912.5H573.7" stroke="#00f" stroke-width="3.3" fill="none"/>
<path d="M538.3 901.7L548 918.3H528.6Z" fill="#fff" stroke="#00f" stroke-width="3.2" stroke-linejoin="round"/>
<text x="583.1" y="923.3" font-size="30.5">60<tspan dx="-0.5">°</tspan></text>
<path d="M1081.38 1143.5A42.72 42.72 0 0 1 1166.82 1143.5M995.94 1143.5A128.16 128.16 0 0 1 1252.26 1143.5M910.5 1143.5A213.6 213.6 0 0 1 1337.7 1143.5M825.06 1143.5A299.04 299.04 0 0 1 1423.14 1143.5" fill="none" stroke="#b2b2b2" stroke-width="1" stroke-dasharray="4.6 3.8"/>
<path d="M1206.63 1121.39L1426.72 1062.41M1184.52 1083.08L1345.64 921.96M1146.21 1060.97L1205.19 840.88M1101.99 1060.97L1043.01 840.88M1063.68 1083.08L902.56 921.96M1041.57 1121.39L821.48 1062.41" fill="none" stroke="#b2b2b2" stroke-width="1" stroke-dasharray="4.6 3.8"/>
<path d="M1038.66 1143.5A85.44 85.44 0 0 1 1209.54 1143.5M953.22 1143.5A170.88 170.88 0 0 1 1294.98 1143.5M867.78 1143.5A256.32 256.32 0 0 1 1380.42 1143.5" fill="none" stroke="#757575" stroke-width="1.6"/>
<path d="M1124.1 1143.5L1437.4 1143.5M1124.1 1143.5L1395.43 986.85M1124.1 1143.5L1280.75 872.17M1124.1 1143.5L1124.1 830.2M1124.1 1143.5L967.45 872.17M1124.1 1143.5L852.77 986.85M1124.1 1143.5L810.8 1143.5" fill="none" stroke="#757575" stroke-width="1.6"/>
<path d="M810.8 1144.7V1143.5A313.3 313.3 0 0 1 1437.4 1143.5V1144.7" fill="none" stroke="#000" stroke-width="3.7"/>
<path d="M1437.4 1143.5L1423.8 1143.5M1395.43 986.85L1383.65 993.65M1280.75 872.17L1273.95 883.95M1124.1 830.2L1124.1 843.8M967.45 872.17L974.25 883.95M852.77 986.85L864.55 993.65M810.8 1143.5L824.4 1143.5" fill="none" stroke="#000" stroke-width="3.2"/>
<path d="M1426.72 1062.41L1419.96 1064.22M1345.64 921.96L1340.69 926.91M1205.19 840.88L1203.38 847.64M1043.01 840.88L1044.82 847.64M902.56 921.96L907.51 926.91M821.48 1062.41L828.24 1064.22" fill="none" stroke="#000" stroke-width="2.8"/>
<text transform="translate(1123.1 810.7) scale(1 1.02)" text-anchor="middle" font-size="27.9" class="p">0°</text>
<text transform="translate(959.8 854.7) scale(1 1.02)" text-anchor="end" font-size="27.9" class="p">30°</text>
<text transform="translate(840.3 973.7) scale(1 1.02)" text-anchor="end" font-size="27.9" class="p">60°</text>
<text transform="translate(797.8 1152.1) scale(1 1.02)" text-anchor="end" font-size="27.9" class="p">90°</text>
<text transform="translate(1287.7 854.9) scale(1 1.02)" text-anchor="start" font-size="27.9" class="p">–30°</text>
<text transform="translate(1406.9 973.9) scale(1 1.02)" text-anchor="start" font-size="27.9" class="p">–60°</text>
<text transform="translate(1450.5 1151.7) scale(1 1.02)" text-anchor="start" font-size="27.9" class="p">–90°</text>
<text transform="translate(750.0 716) scale(1.035 1)" font-weight="bold" font-size="41" class="p">d</text>
<rect x="1119.1" y="1136.5" width="14.0" height="14.0" fill="#000"/>
<rect x="1185.05" y="1124.52" width="14.0" height="14.0" fill="#000"/>
<rect x="1230.8" y="1095.12" width="14.0" height="14.0" fill="#000"/>
<rect x="1253.67" y="1057.65" width="14.0" height="14.0" fill="#000"/>
<rect x="1268.39" y="1009.55" width="14.0" height="14.0" fill="#000"/>
<rect x="1263.98" y="961.46" width="14.0" height="14.0" fill="#000"/>
<rect x="1243.85" y="916.96" width="14.0" height="14.0" fill="#000"/>
<rect x="1209.86" y="881.66" width="14.0" height="14.0" fill="#000"/>
<rect x="1166" y="859.18" width="14.0" height="14.0" fill="#000"/>
<rect x="1117.1" y="851.5" width="14.0" height="14.0" fill="#000"/>
<rect x="1068.2" y="859.18" width="14.0" height="14.0" fill="#000"/>
<rect x="1024.34" y="881.66" width="14.0" height="14.0" fill="#000"/>
<rect x="990.35" y="916.96" width="14.0" height="14.0" fill="#000"/>
<rect x="970.22" y="961.46" width="14.0" height="14.0" fill="#000"/>
<rect x="965.81" y="1009.55" width="14.0" height="14.0" fill="#000"/>
<rect x="980.53" y="1057.65" width="14.0" height="14.0" fill="#000"/>
<rect x="1003.4" y="1095.12" width="14.0" height="14.0" fill="#000"/>
<rect x="1049.15" y="1124.52" width="14.0" height="14.0" fill="#000"/>
<rect x="1115.1" y="1136.5" width="14.0" height="14.0" fill="#000"/>
<circle cx="1127.1" cy="1143.5" r="7.5" fill="#f00"/>
<circle cx="1194.51" cy="1131.08" r="7.5" fill="#f00"/>
<circle cx="1238.27" cy="1101.94" r="7.5" fill="#f00"/>
<circle cx="1260.67" cy="1064.65" r="7.5" fill="#f00"/>
<circle cx="1275.39" cy="1016.55" r="7.5" fill="#f00"/>
<circle cx="1270.98" cy="968.46" r="7.5" fill="#f00"/>
<circle cx="1250.85" cy="923.96" r="7.5" fill="#f00"/>
<circle cx="1216.86" cy="888.66" r="7.5" fill="#f00"/>
<circle cx="1173" cy="866.18" r="7.5" fill="#f00"/>
<circle cx="1124.1" cy="858.5" r="7.5" fill="#f00"/>
<circle cx="1075.2" cy="866.18" r="7.5" fill="#f00"/>
<circle cx="1031.34" cy="888.66" r="7.5" fill="#f00"/>
<circle cx="997.35" cy="923.96" r="7.5" fill="#f00"/>
<circle cx="977.22" cy="968.46" r="7.5" fill="#f00"/>
<circle cx="972.81" cy="1016.55" r="7.5" fill="#f00"/>
<circle cx="987.53" cy="1064.65" r="7.5" fill="#f00"/>
<circle cx="1009.93" cy="1101.94" r="7.5" fill="#f00"/>
<circle cx="1053.69" cy="1131.08" r="7.5" fill="#f00"/>
<circle cx="1121.1" cy="1143.5" r="7.5" fill="#f00"/>
<path d="M1137.1 1132.7L1146.3 1148.9H1127.9Z" fill="#00f"/>
<path d="M1205.84 1118.29L1215.04 1134.49H1196.64Z" fill="#00f"/>
<path d="M1242.5 1089.61L1251.7 1105.81H1233.3Z" fill="#00f"/>
<path d="M1260.67 1053.85L1269.87 1070.05H1251.47Z" fill="#00f"/>
<path d="M1275.39 1005.75L1284.59 1021.95H1266.19Z" fill="#00f"/>
<path d="M1270.98 957.66L1280.18 973.86H1261.78Z" fill="#00f"/>
<path d="M1250.85 913.16L1260.05 929.36H1241.65Z" fill="#00f"/>
<path d="M1216.86 877.86L1226.06 894.06H1207.66Z" fill="#00f"/>
<path d="M1173 855.38L1182.2 871.58H1163.8Z" fill="#00f"/>
<path d="M1124.1 847.7L1133.3 863.9H1114.9Z" fill="#00f"/>
<path d="M1075.2 855.38L1084.4 871.58H1066Z" fill="#00f"/>
<path d="M1031.34 877.86L1040.54 894.06H1022.14Z" fill="#00f"/>
<path d="M997.35 913.16L1006.55 929.36H988.15Z" fill="#00f"/>
<path d="M977.22 957.66L986.42 973.86H968.02Z" fill="#00f"/>
<path d="M972.81 1005.75L982.01 1021.95H963.61Z" fill="#00f"/>
<path d="M987.53 1053.85L996.73 1070.05H978.33Z" fill="#00f"/>
<path d="M1005.7 1089.61L1014.9 1105.81H996.5Z" fill="#00f"/>
<path d="M1042.36 1118.29L1051.56 1134.49H1033.16Z" fill="#00f"/>
<path d="M1111.1 1132.7L1120.3 1148.9H1101.9Z" fill="#00f"/>
<path d="M1136.1 1154.3L1145.3 1138.1H1126.9Z" fill="#f0f"/>
<path d="M1207.32 1139.63L1216.52 1123.43H1198.12Z" fill="#f0f"/>
<path d="M1243.44 1110.86L1252.64 1094.66H1234.24Z" fill="#f0f"/>
<path d="M1260.67 1075.45L1269.87 1059.25H1251.47Z" fill="#f0f"/>
<path d="M1275.39 1027.35L1284.59 1011.15H1266.19Z" fill="#f0f"/>
<path d="M1270.98 979.26L1280.18 963.06H1261.78Z" fill="#f0f"/>
<path d="M1250.85 934.76L1260.05 918.56H1241.65Z" fill="#f0f"/>
<path d="M1216.86 899.46L1226.06 883.26H1207.66Z" fill="#f0f"/>
<path d="M1173 876.98L1182.2 860.78H1163.8Z" fill="#f0f"/>
<path d="M1124.1 869.3L1133.3 853.1H1114.9Z" fill="#f0f"/>
<path d="M1075.2 876.98L1084.4 860.78H1066Z" fill="#f0f"/>
<path d="M1031.34 899.46L1040.54 883.26H1022.14Z" fill="#f0f"/>
<path d="M997.35 934.76L1006.55 918.56H988.15Z" fill="#f0f"/>
<path d="M977.22 979.26L986.42 963.06H968.02Z" fill="#f0f"/>
<path d="M972.81 1027.35L982.01 1011.15H963.61Z" fill="#f0f"/>
<path d="M987.53 1075.45L996.73 1059.25H978.33Z" fill="#f0f"/>
<path d="M1004.76 1110.86L1013.96 1094.66H995.56Z" fill="#f0f"/>
<path d="M1040.88 1139.63L1050.08 1123.43H1031.68Z" fill="#f0f"/>
<path d="M1112.1 1154.3L1121.3 1138.1H1102.9Z" fill="#f0f"/>
<path d="M1133.1 1133.8L1142.8 1143.5L1133.1 1153.2L1123.4 1143.5Z" fill="#00007f"/>
<path d="M1202.88 1119.91L1212.58 1129.61L1202.88 1139.31L1193.18 1129.61Z" fill="#00007f"/>
<path d="M1244.38 1090.02L1254.08 1099.72L1244.38 1109.42L1234.68 1099.72Z" fill="#00007f"/>
<path d="M1260.67 1054.95L1270.37 1064.65L1260.67 1074.35L1250.97 1064.65Z" fill="#00007f"/>
<path d="M1275.39 1006.85L1285.09 1016.55L1275.39 1026.25L1265.69 1016.55Z" fill="#00007f"/>
<path d="M1270.98 958.76L1280.68 968.46L1270.98 978.16L1261.28 968.46Z" fill="#00007f"/>
<path d="M1250.85 914.26L1260.55 923.96L1250.85 933.66L1241.15 923.96Z" fill="#00007f"/>
<path d="M1216.86 878.96L1226.56 888.66L1216.86 898.36L1207.16 888.66Z" fill="#00007f"/>
<path d="M1173 856.48L1182.7 866.18L1173 875.88L1163.3 866.18Z" fill="#00007f"/>
<path d="M1124.1 848.8L1133.8 858.5L1124.1 868.2L1114.4 858.5Z" fill="#00007f"/>
<path d="M1075.2 856.48L1084.9 866.18L1075.2 875.88L1065.5 866.18Z" fill="#00007f"/>
<path d="M1031.34 878.96L1041.04 888.66L1031.34 898.36L1021.64 888.66Z" fill="#00007f"/>
<path d="M997.35 914.26L1007.05 923.96L997.35 933.66L987.65 923.96Z" fill="#00007f"/>
<path d="M977.22 958.76L986.92 968.46L977.22 978.16L967.52 968.46Z" fill="#00007f"/>
<path d="M972.81 1006.85L982.51 1016.55L972.81 1026.25L963.11 1016.55Z" fill="#00007f"/>
<path d="M987.53 1054.95L997.23 1064.65L987.53 1074.35L977.83 1064.65Z" fill="#00007f"/>
<path d="M1003.82 1090.02L1013.52 1099.72L1003.82 1109.42L994.12 1099.72Z" fill="#00007f"/>
<path d="M1045.32 1119.91L1055.02 1129.61L1045.32 1139.31L1035.62 1129.61Z" fill="#00007f"/>
<path d="M1115.1 1133.8L1124.8 1143.5L1115.1 1153.2L1105.4 1143.5Z" fill="#00007f"/>
<path d="M1121.3 1143.5L1137.5 1134.3V1152.7Z" fill="#007f00"/>
<path d="M1186.67 1130.56L1202.87 1121.36V1139.76Z" fill="#007f00"/>
<path d="M1234.52 1099.38L1250.72 1090.18V1108.58Z" fill="#007f00"/>
<path d="M1249.87 1064.65L1266.07 1055.45V1073.85Z" fill="#007f00"/>
<path d="M1264.59 1016.55L1280.79 1007.35V1025.75Z" fill="#007f00"/>
<path d="M1260.18 968.46L1276.38 959.26V977.66Z" fill="#007f00"/>
<path d="M1240.05 923.96L1256.25 914.76V933.16Z" fill="#007f00"/>
<path d="M1206.06 888.66L1222.26 879.46V897.86Z" fill="#007f00"/>
<path d="M1162.2 866.18L1178.4 856.98V875.38Z" fill="#007f00"/>
<path d="M1113.3 858.5L1129.5 849.3V867.7Z" fill="#007f00"/>
<path d="M1064.4 866.18L1080.6 856.98V875.38Z" fill="#007f00"/>
<path d="M1020.54 888.66L1036.74 879.46V897.86Z" fill="#007f00"/>
<path d="M986.55 923.96L1002.75 914.76V933.16Z" fill="#007f00"/>
<path d="M966.42 968.46L982.62 959.26V977.66Z" fill="#007f00"/>
<path d="M962.01 1016.55L978.21 1007.35V1025.75Z" fill="#007f00"/>
<path d="M976.73 1064.65L992.93 1055.45V1073.85Z" fill="#007f00"/>
<path d="M992.08 1099.38L1008.28 1090.18V1108.58Z" fill="#007f00"/>
<path d="M1039.93 1130.56L1056.13 1121.36V1139.76Z" fill="#007f00"/>
<path d="M1105.3 1143.5L1121.5 1134.3V1152.7Z" fill="#007f00"/>
<circle cx="1124.1" cy="1001.1" r="142.4" fill="none" stroke="#f00" stroke-width="3.4"/>
<rect x="837.5" y="1180.7" width="14.0" height="14.0" fill="#000"/>
<text x="861.8" y="1195.8" font-size="27.3" class="p">760 nm</text>
<circle cx="1067.2" cy="1187.7" r="7.5" fill="#f00"/>
<text x="1088.2" y="1195.8" font-size="27.3" class="p">775 nm</text>
<path d="M1290.5 1176.9L1299.7 1193.1H1281.3Z" fill="#00f"/>
<text x="1308.6" y="1195.8" font-size="27.3" class="p">790 nm</text>
<path d="M844.5 1237.7L853.7 1221.5H835.3Z" fill="#f0f"/>
<text x="861.8" y="1236.6" font-size="27.3" class="p">800 nm</text>
<path d="M1067.2 1217.2L1076.9 1226.9L1067.2 1236.6L1057.5 1226.9Z" fill="#00007f"/>
<text x="1088.2" y="1236.6" font-size="27.3" class="p">815 nm</text>
<path d="M1279.7 1226.9L1295.9 1217.7V1236.1Z" fill="#007f00"/>
<text x="1308.6" y="1236.6" font-size="27.3" class="p">830 nm</text>
<path d="M957 1265.4H1030.5" stroke="#f00" stroke-width="3.4" fill="none"/>
<text x="1040.3" y="1274.3" font-size="27.3" class="p">Lambertian surface</text>
</svg>
</body>
</html>
